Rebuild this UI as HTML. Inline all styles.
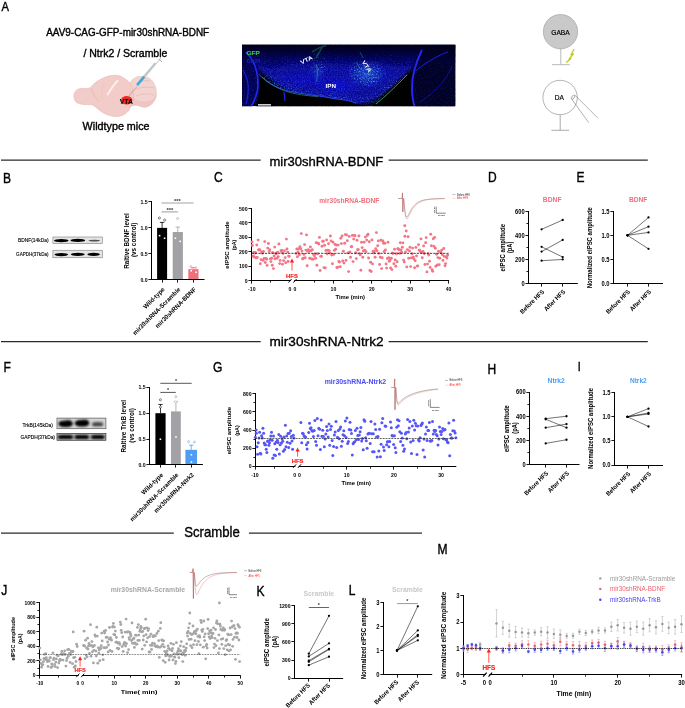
<!DOCTYPE html>
<html><head><meta charset="utf-8"><title>Figure</title>
<style>
html,body{margin:0;padding:0;background:#fff;}
body{width:685px;height:708px;overflow:hidden;font-family:"Liberation Sans",sans-serif;}
svg{display:block;font-family:"Liberation Sans",sans-serif;opacity:0.999;will-change:transform;}
</style></head><body>
<svg width="685" height="708" viewBox="0 0 685 708">
<defs>
<filter id="b1" x="-10%" y="-10%" width="120%" height="120%"><feGaussianBlur stdDeviation="0.5"/></filter>
<clipPath id="micClip"><rect x="242" y="44.8" width="213.3" height="61.4"/></clipPath>
<filter id="micBlur" x="-5%" y="-5%" width="110%" height="110%"><feGaussianBlur stdDeviation="1.6"/></filter>
<filter id="micBlur2" x="-5%" y="-5%" width="110%" height="110%"><feGaussianBlur stdDeviation="0.5"/></filter>
<filter id="speck" x="0" y="0" width="100%" height="100%">
 <feTurbulence type="fractalNoise" baseFrequency="0.85" numOctaves="2" seed="4" result="n"/>
 <feColorMatrix in="n" type="matrix" values="0 0 0 0 0.10  0 0 0 0 0.22  0 0 0 0 1  0 0 3.4 0 -1.6"/>
</filter>
<filter id="speckD" x="0" y="0" width="100%" height="100%">
 <feTurbulence type="fractalNoise" baseFrequency="0.6" numOctaves="2" seed="17" result="n"/>
 <feColorMatrix in="n" type="matrix" values="0 0 0 0 0  0 0 0 0 0  0 0 0 0 0.18  3.0 0 0 0 -1.25"/>
</filter>
<filter id="speckG" x="0" y="0" width="100%" height="100%">
 <feTurbulence type="fractalNoise" baseFrequency="0.7" numOctaves="2" seed="9" result="n"/>
 <feColorMatrix in="n" type="matrix" values="0 0 0 0 0.2  0 0 0 0 0.85  0 0 0 0 0.6  0 4 0 0 -2.15" result="c"/>
 <feGaussianBlur in="SourceAlpha" stdDeviation="3" result="sa"/>
 <feComposite in="c" in2="sa" operator="in"/>
</filter>
<linearGradient id="gTop" x1="0" y1="0" x2="0" y2="1"><stop offset="0" stop-color="#000008"/><stop offset="0.4" stop-color="#00002c" stop-opacity="0.95"/><stop offset="1" stop-color="#030370" stop-opacity="0"/></linearGradient>
<radialGradient id="gIPN" cx="0.5" cy="0.5" r="0.5"><stop offset="0" stop-color="#1212ee" stop-opacity="0.9"/><stop offset="1" stop-color="#1010e0" stop-opacity="0"/></radialGradient>
<radialGradient id="gVTA" cx="0.5" cy="0.5" r="0.5"><stop offset="0" stop-color="#3070e8" stop-opacity="0.9"/><stop offset="1" stop-color="#1828e0" stop-opacity="0"/></radialGradient>
<radialGradient id="gDark" cx="0.5" cy="0.5" r="0.5"><stop offset="0" stop-color="#020250" stop-opacity="0.85"/><stop offset="1" stop-color="#020250" stop-opacity="0"/></radialGradient>
<filter id="wb" x="-10%" y="-40%" width="120%" height="180%"><feGaussianBlur stdDeviation="0.75"/></filter>
<filter id="wb2" x="-10%" y="-40%" width="120%" height="180%"><feGaussianBlur stdDeviation="1.05"/></filter>
</defs>
<rect width="685" height="708" fill="#fff"/>
<text x="1.60" y="11.20" font-size="13" fill="#000" textLength="7.46" lengthAdjust="spacingAndGlyphs" stroke="#000" stroke-width="0.4">A</text>
<text x="46.20" y="35.80" font-size="10.9" fill="#000" textLength="163.00" lengthAdjust="spacingAndGlyphs" stroke="#000" stroke-width="0.38">AAV9-CAG-GFP-mir30shRNA-BDNF</text>
<text x="83.40" y="57.20" font-size="10.9" fill="#000" textLength="84.00" lengthAdjust="spacingAndGlyphs" stroke="#000" stroke-width="0.38">/ Ntrk2 / Scramble</text>
<text x="82.60" y="129.90" font-size="10.9" fill="#000" textLength="67.00" lengthAdjust="spacingAndGlyphs" stroke="#000" stroke-width="0.38">Wildtype mice</text>
<g filter="url(#b1)">
<path d="M126 110 C130 105.5 134 104.6 138 105.6 C142 107 145 108 148 106.6 C152 104.8 155 101 156.3 96 C156.3 90 150 90 140 92 C134 94 129 100 126 110 Z" fill="#efc6c2" stroke="#e3aeaa" stroke-width="0.5"/>
<path d="M129.6 84 C131.5 79.5 135 77.2 139 76.6 C143 76 148 76.6 151 79.5 C154.5 83 156.5 88 156.4 93 C156.3 97 153.5 99.5 151 101 C146 103 138 102.5 134 98.5 C131 95 129 88 129.6 84 Z" fill="#f3d3cf" stroke="#e6b6b2" stroke-width="0.5"/>
<path d="M74 96 C74 90.5 78 88.2 83 88.4 C86 88.5 89 88.8 91 87.2 C94 83 100 78.6 108 76.2 C113 74.8 119 74.8 123 77.5 C127 80 129.6 82 130.6 84.4 C134.4 90 134.4 100 130.4 107.7 C128 112.4 124 115.6 118 116.4 C112 117 106 114.6 102 112 C98 109.6 95 105.6 91.5 104.5 C86 104.8 80 104.5 77 102.8 C75 101.6 74 99 74 96 Z" fill="#f2ccc8" stroke="#e4b0ac" stroke-width="0.55"/>
<path d="M107.5 94.5 C110.5 89.5 114.5 84 117.6 80.6" stroke="#fdf2f0" stroke-width="1.7" fill="none" stroke-linecap="round"/>
<path d="M91 88 C92.5 93 95 98 99 101" stroke="#e4b2ae" stroke-width="0.6" fill="none"/>
<path d="M104 82 C102 88 101 94 102.5 100" stroke="#ecbfbb" stroke-width="0.6" fill="none"/>
<path d="M136 84 C140 81 145 80 150 81 M134.5 90 C140 87 148 86.5 154.5 88 M136 96 C142 93.5 148 93.5 154 95" stroke="#e2b0ac" stroke-width="0.6" fill="none"/>
</g>
<ellipse cx="126.7" cy="100.3" rx="5.6" ry="4.2" fill="#ef2a22" filter="url(#b1)"/>
<text x="126.30" y="103.60" font-size="8.0" fill="#000" text-anchor="middle" font-weight="bold" textLength="13.00" lengthAdjust="spacingAndGlyphs">VTA</text>
<line x1="160.90" y1="58.20" x2="127.50" y2="97.60" stroke="#8a8a8a" stroke-width="0.5" />
<line x1="155.60" y1="63.00" x2="144.00" y2="76.80" stroke="#cfd3d6" stroke-width="2.6" />
<line x1="155.60" y1="63.00" x2="144.00" y2="76.80" stroke="#9a9fa3" stroke-width="0.5" />
<line x1="144.20" y1="76.60" x2="137.20" y2="85.00" stroke="#3fa9d6" stroke-width="2.6" />
<line x1="158.60" y1="59.00" x2="162.00" y2="61.80" stroke="#8a8a8a" stroke-width="0.7" />
<g clip-path="url(#micClip)">
<rect x="242.00" y="44.80" width="213.30" height="61.40" fill="#000" />
<g filter="url(#micBlur)">
<path d="M242 44 L456 44 L456 108 L418 108 C412 92 410 80 414 66 C404 74 394 86 380 96 C368 104 356 106 346 104 C334 102 322 100 308 97 C292 94 276 86 262 72 C254 66 248 64 242 64 Z" fill="#0808a2"/>
<path d="M416 108 C411 92 410 80 414 62 C420 50 440 44 456 44 L456 108 Z" fill="#02022c"/>
<path d="M242 50 C252 56 258 66 260 78 C262 90 256 100 250 108 L242 108 Z" fill="#050570"/>
<ellipse cx="272" cy="62" rx="22" ry="9" fill="url(#gDark)"/>
<ellipse cx="336" cy="86" rx="26" ry="12" fill="url(#gIPN)"/>
<ellipse cx="368" cy="74" rx="24" ry="15" fill="url(#gVTA)"/>
<ellipse cx="318" cy="72" rx="9" ry="14" fill="url(#gVTA)" opacity="0.55"/>
<ellipse cx="300" cy="80" rx="28" ry="10" fill="url(#gIPN)" opacity="0.55"/>
<ellipse cx="398" cy="60" rx="20" ry="9" fill="url(#gDark)"/>
<rect x="236" y="42" width="226" height="27" fill="url(#gTop)"/>
</g>
<rect x="242" y="44.8" width="213.3" height="61.4" filter="url(#speckD)" opacity="0.55"/>
<rect x="242" y="44.8" width="213.3" height="61.4" filter="url(#speck)" opacity="0.26"/>
<g opacity="0.6"><ellipse cx="366" cy="74" rx="17" ry="13" filter="url(#speckG)"/></g>
<g opacity="0.45"><ellipse cx="318" cy="60" rx="9" ry="15" filter="url(#speckG)"/></g>
<g opacity="0.5"><path d="M262 74 C270 82 280 88 292 91 C306 94 320 95.4 336 98.6 C344 100 352 100 358 102 C366 104 372 102 380 96 C390 88 400 80 408 72" fill="none" stroke="#000" stroke-width="7" filter="url(#speckG)"/></g>
<g filter="url(#micBlur)">
<rect x="236" y="40" width="226" height="26" fill="url(#gTop)"/>
<path d="M416 110 C411 92 410 80 414 62 C420 50 440 42 458 42 L458 110 Z" fill="#00001c" opacity="0.62"/>
<path d="M240 48 C252 56 258 66 260 78 C262 90 256 100 250 110 L240 110 Z" fill="#00001c" opacity="0.35"/>
</g>
<g filter="url(#micBlur2)">
<path d="M256 108 C260 96 261 84 258.6 74 C266 82 276 88 288 91 C302 94 318 95.4 334 98.6 C342 100 350 100 356 103.4 C362 106 368 107 374 106 C384 94 398 82 412 71 C409 84 410 96 414 108 Z" fill="#000"/>
<path d="M246 52 C254 60 258 72 258 84 C258 94 254 102 250 108" stroke="#2626f6" stroke-width="1.6" fill="none"/>
<path d="M243 70 C248 78 250 90 246 104" stroke="#1c1ce0" stroke-width="1.2" fill="none"/>
<path d="M258.6 74 C266 82 276 88 288 91 C302 94 318 95.4 334 98.6 C342 100 350 100 356 103.4" stroke="#2248f0" stroke-width="1.0" fill="none"/>
<path d="M422 50 C416 62 412 76 412 88 C412 96 413 102 415 108" stroke="#2828fa" stroke-width="1.8" fill="none"/>
<path d="M414 72 C424 64 436 56 448 52" stroke="#1c1cd8" stroke-width="1.0" fill="none"/>
<path d="M420 102 C432 94 446 82 452 66" stroke="#1414b0" stroke-width="0.8" fill="none"/>
<path d="M284 92 L285 101" stroke="#2a2aff" stroke-width="1" fill="none"/>
<path d="M376 104 C386 96 398 84 407 75" stroke="#36c070" stroke-width="0.9" fill="none" opacity="0.9"/>
<path d="M262 77 C268 83 278 89 290 92.5 C300 95 310 96 318 96.5" stroke="#2c9c9c" stroke-width="0.8" fill="none" opacity="0.8"/>
<path d="M312 52 C316 49 320 47 326 45.5 M316 58 C319 53 321 49 323 46" stroke="#2aa262" stroke-width="1.6" fill="none" opacity="0.4"/>
<path d="M360 52 L363 58 M356 62 L361 70" stroke="#2aa262" stroke-width="1" fill="none" opacity="0.5"/>
<path d="M316 64 C318 70 318 76 316 82" stroke="#2c98b0" stroke-width="1.6" fill="none" opacity="0.4"/>
</g>
</g>
<text x="246.50" y="54.60" font-size="6.0" fill="#38c452" font-weight="bold" textLength="13.20" lengthAdjust="spacingAndGlyphs" stroke="#38c452" stroke-width="0.15">GFP</text>
<text x="246.50" y="62.50" font-size="5.5" fill="#1c1cc8" font-weight="bold" textLength="14.00" lengthAdjust="spacingAndGlyphs">DAPI</text>
<text x="301.50" y="64.50" font-size="5.6" fill="#fff" font-weight="bold" textLength="13.00" lengthAdjust="spacingAndGlyphs" transform="rotate(-26 301.50 64.50)">VTA</text>
<text x="361.50" y="62.00" font-size="5.6" fill="#fff" font-weight="bold" textLength="13.00" lengthAdjust="spacingAndGlyphs" transform="rotate(56 361.50 62.00)">VTA</text>
<text x="325.50" y="87.50" font-size="5.6" fill="#fff" font-weight="bold" textLength="10.50" lengthAdjust="spacingAndGlyphs">IPN</text>
<rect x="258.00" y="104.20" width="13.00" height="1.30" fill="#fff" />
<circle cx="560.5" cy="31.7" r="17.2" fill="#c9c9c9" stroke="#8f8f8f" stroke-width="0.5"/>
<line x1="560.80" y1="49.00" x2="560.80" y2="64.70" stroke="#b0b0b0" stroke-width="0.9" />
<line x1="552.00" y1="64.70" x2="569.70" y2="64.70" stroke="#b0b0b0" stroke-width="0.9" />
<text x="560.50" y="34.60" font-size="8" fill="#000" text-anchor="middle" textLength="18.50" lengthAdjust="spacingAndGlyphs" stroke="#000" stroke-width="0.2">GABA</text>
<path d="M574.3 49.0 L570.9 54.8 L573.3 53.8 L569.0 59.2 L571.0 58.4 L566.2 62.6" stroke="#c2ca26" stroke-width="1.3" fill="none" stroke-linejoin="round"/>
<circle cx="560.1" cy="97.5" r="17.2" fill="#fff" stroke="#6a6a6a" stroke-width="0.5"/>
<line x1="560.20" y1="114.70" x2="560.20" y2="130.30" stroke="#8a8a8a" stroke-width="0.7" />
<line x1="551.40" y1="130.30" x2="569.10" y2="130.30" stroke="#8a8a8a" stroke-width="0.7" />
<text x="559.30" y="100.40" font-size="8" fill="#000" text-anchor="middle" textLength="9.20" lengthAdjust="spacingAndGlyphs" stroke="#000" stroke-width="0.2">DA</text>
<ellipse cx="573.0" cy="97.2" rx="1.3" ry="2.2" transform="rotate(40 573 97.2)" fill="none" stroke="#555" stroke-width="0.45"/>
<line x1="574.80" y1="95.00" x2="597.70" y2="117.90" stroke="#555" stroke-width="0.45" />
<line x1="571.60" y1="98.80" x2="588.70" y2="122.60" stroke="#555" stroke-width="0.45" />
<line x1="1.00" y1="160.20" x2="260.70" y2="160.20" stroke="#2a2a2a" stroke-width="1.3" />
<line x1="388.60" y1="160.20" x2="647.80" y2="160.20" stroke="#2a2a2a" stroke-width="1.3" />
<text x="269.40" y="165.80" font-size="13.7" fill="#000" textLength="113.90" lengthAdjust="spacingAndGlyphs" stroke="#000" stroke-width="0.35">mir30shRNA-BDNF</text>
<text x="3.00" y="183.00" font-size="14" fill="#000" textLength="8.03" lengthAdjust="spacingAndGlyphs" stroke="#000" stroke-width="0.4">B</text>
<text x="214.00" y="182.40" font-size="14" fill="#000" textLength="8.69" lengthAdjust="spacingAndGlyphs" stroke="#000" stroke-width="0.4">C</text>
<text x="488.00" y="182.40" font-size="14" fill="#000" textLength="8.69" lengthAdjust="spacingAndGlyphs" stroke="#000" stroke-width="0.4">D</text>
<text x="576.60" y="182.40" font-size="14" fill="#000" textLength="8.03" lengthAdjust="spacingAndGlyphs" stroke="#000" stroke-width="0.4">E</text>
<rect x="52.90" y="237.00" width="49.40" height="6.60" fill="#e4e4e4" stroke="#666" stroke-width="0.5"/>
<g filter="url(#wb)">
<ellipse cx="61.30" cy="240.60" rx="7.28" ry="1.68" fill="#000" opacity="1"/>
<ellipse cx="77.80" cy="240.40" rx="7.28" ry="1.68" fill="#000" opacity="1"/>
<ellipse cx="94.30" cy="240.60" rx="5.82" ry="0.90" fill="#222" opacity="0.75"/>
</g>
<rect x="52.90" y="250.20" width="49.40" height="7.60" fill="#e4e4e4" stroke="#666" stroke-width="0.5"/>
<g filter="url(#wb)">
<ellipse cx="61.30" cy="254.60" rx="6.86" ry="1.57" fill="#000" opacity="1"/>
<ellipse cx="77.80" cy="254.40" rx="6.86" ry="1.57" fill="#000" opacity="1"/>
<ellipse cx="93.60" cy="254.40" rx="6.24" ry="1.57" fill="#000" opacity="1"/>
</g>
<text x="18.00" y="242.30" font-size="5.2" fill="#000" textLength="30.50" lengthAdjust="spacingAndGlyphs" stroke="#000" stroke-width="0.12">BDNF(14kDa)</text>
<text x="16.10" y="256.20" font-size="5.2" fill="#000" textLength="32.40" lengthAdjust="spacingAndGlyphs" stroke="#000" stroke-width="0.12">GAPDH(37kDa)</text>
<line x1="151.50" y1="201.00" x2="151.50" y2="280.00" stroke="#000" stroke-width="1.0" />
<line x1="148.40" y1="201.50" x2="151.50" y2="201.50" stroke="#000" stroke-width="0.9" />
<text x="147.60" y="203.97" font-size="5.777" fill="#000" text-anchor="end" font-weight="bold" textLength="7.15" lengthAdjust="spacingAndGlyphs">1.5</text>
<line x1="148.40" y1="227.50" x2="151.50" y2="227.50" stroke="#000" stroke-width="0.9" />
<text x="147.60" y="229.93" font-size="5.777" fill="#000" text-anchor="end" font-weight="bold" textLength="7.15" lengthAdjust="spacingAndGlyphs">1.0</text>
<line x1="148.40" y1="253.50" x2="151.50" y2="253.50" stroke="#000" stroke-width="0.9" />
<text x="147.60" y="255.90" font-size="5.777" fill="#000" text-anchor="end" font-weight="bold" textLength="7.15" lengthAdjust="spacingAndGlyphs">0.5</text>
<line x1="148.40" y1="279.50" x2="151.50" y2="279.50" stroke="#000" stroke-width="0.9" />
<text x="147.60" y="281.87" font-size="5.777" fill="#000" text-anchor="end" font-weight="bold" textLength="7.15" lengthAdjust="spacingAndGlyphs">0.0</text>
<line x1="162.10" y1="222.41" x2="162.10" y2="227.87" stroke="#000" stroke-width="0.8" />
<line x1="159.90" y1="222.41" x2="164.30" y2="222.41" stroke="#000" stroke-width="0.8" />
<rect x="157.10" y="227.87" width="10.00" height="51.93" fill="#000" />
<line x1="177.80" y1="227.09" x2="177.80" y2="232.02" stroke="#a2a2a6" stroke-width="0.8" />
<line x1="175.60" y1="227.09" x2="180.00" y2="227.09" stroke="#a2a2a6" stroke-width="0.8" />
<rect x="172.70" y="232.02" width="10.20" height="47.78" fill="#a2a2a6" />
<line x1="193.40" y1="267.60" x2="193.40" y2="269.15" stroke="#f0707c" stroke-width="0.8" />
<line x1="191.20" y1="267.60" x2="195.60" y2="267.60" stroke="#f0707c" stroke-width="0.8" />
<rect x="188.30" y="269.15" width="10.20" height="10.65" fill="#f0707c" />
<line x1="151.00" y1="279.50" x2="204.50" y2="279.50" stroke="#000" stroke-width="1.0" />
<line x1="162.50" y1="279.50" x2="162.50" y2="282.60" stroke="#000" stroke-width="0.9" />
<line x1="177.50" y1="279.50" x2="177.50" y2="282.60" stroke="#000" stroke-width="0.9" />
<line x1="193.50" y1="279.50" x2="193.50" y2="282.60" stroke="#000" stroke-width="0.9" />
<circle cx="159.40" cy="218.00" r="1.05" fill="#fff" stroke="#222" stroke-width="0.55"/>
<circle cx="164.60" cy="220.08" r="1.05" fill="#fff" stroke="#222" stroke-width="0.55"/>
<rect x="158.80" y="234.86" width="1.60" height="1.60" fill="#fff" />
<rect x="163.80" y="237.45" width="1.60" height="1.60" fill="#fff" />
<circle cx="177.60" cy="218.52" r="1.05" fill="#fff" stroke="#999" stroke-width="0.55"/>
<rect x="174.60" y="237.45" width="1.60" height="1.60" fill="#fff" />
<rect x="179.40" y="240.57" width="1.60" height="1.60" fill="#fff" />
<circle cx="190.80" cy="266.56" r="0.9" fill="#fff" stroke="#f0707c" stroke-width="0.55"/>
<circle cx="195.80" cy="267.60" r="0.9" fill="#fff" stroke="#f0707c" stroke-width="0.55"/>
<circle cx="193.00" cy="268.63" r="0.9" fill="#fff" stroke="#f0707c" stroke-width="0.55"/>
<rect x="190.40" y="269.91" width="1.60" height="1.60" fill="#fff" />
<rect x="195.20" y="271.47" width="1.60" height="1.60" fill="#fff" />
<line x1="161.50" y1="203.00" x2="193.60" y2="203.00" stroke="#a4a4a4" stroke-width="1.1" />
<line x1="161.50" y1="211.90" x2="178.00" y2="211.90" stroke="#a4a4a4" stroke-width="1.1" />
<text x="177.50" y="203.20" font-size="5.8" fill="#333" text-anchor="middle" font-weight="bold">***</text>
<text x="169.80" y="212.10" font-size="5.8" fill="#333" text-anchor="middle" font-weight="bold">***</text>
<text x="128.60" y="241.00" font-size="6.4" fill="#000" text-anchor="middle" font-weight="bold" textLength="55.70" lengthAdjust="spacingAndGlyphs" transform="rotate(-90 128.60 241.00)">Raltive BDNF level</text>
<text x="135.90" y="239.80" font-size="6.4" fill="#000" text-anchor="middle" font-weight="bold" textLength="34.50" lengthAdjust="spacingAndGlyphs" transform="rotate(-90 135.90 239.80)">(vs control)</text>
<text x="165.20" y="289.80" font-size="6.3" fill="#000" text-anchor="end" font-weight="bold" textLength="27.50" lengthAdjust="spacingAndGlyphs" transform="rotate(-45 165.20 289.80)">Wild-type</text>
<text x="180.90" y="289.80" font-size="6.3" fill="#000" text-anchor="end" font-weight="bold" textLength="64.60" lengthAdjust="spacingAndGlyphs" transform="rotate(-45 180.90 289.80)">mir30shRNA-Scramble</text>
<text x="196.50" y="289.80" font-size="6.3" fill="#000" text-anchor="end" font-weight="bold" textLength="54.70" lengthAdjust="spacingAndGlyphs" transform="rotate(-45 196.50 289.80)">mir30shRNA-BDNF</text>
<line x1="251.50" y1="208.00" x2="251.50" y2="281.00" stroke="#000" stroke-width="1.0" />
<line x1="248.40" y1="280.50" x2="251.50" y2="280.50" stroke="#000" stroke-width="0.9" />
<text x="247.60" y="282.87" font-size="5.777" fill="#000" text-anchor="end" font-weight="bold" textLength="2.86" lengthAdjust="spacingAndGlyphs">0</text>
<line x1="248.40" y1="266.50" x2="251.50" y2="266.50" stroke="#000" stroke-width="0.9" />
<text x="247.60" y="268.41" font-size="5.777" fill="#000" text-anchor="end" font-weight="bold" textLength="8.58" lengthAdjust="spacingAndGlyphs">100</text>
<line x1="248.40" y1="251.50" x2="251.50" y2="251.50" stroke="#000" stroke-width="0.9" />
<text x="247.60" y="253.95" font-size="5.777" fill="#000" text-anchor="end" font-weight="bold" textLength="8.58" lengthAdjust="spacingAndGlyphs">200</text>
<line x1="248.40" y1="237.50" x2="251.50" y2="237.50" stroke="#000" stroke-width="0.9" />
<text x="247.60" y="239.49" font-size="5.777" fill="#000" text-anchor="end" font-weight="bold" textLength="8.58" lengthAdjust="spacingAndGlyphs">300</text>
<line x1="248.40" y1="222.50" x2="251.50" y2="222.50" stroke="#000" stroke-width="0.9" />
<text x="247.60" y="225.03" font-size="5.777" fill="#000" text-anchor="end" font-weight="bold" textLength="8.58" lengthAdjust="spacingAndGlyphs">400</text>
<line x1="248.40" y1="208.50" x2="251.50" y2="208.50" stroke="#000" stroke-width="0.9" />
<text x="247.60" y="210.57" font-size="5.777" fill="#000" text-anchor="end" font-weight="bold" textLength="8.58" lengthAdjust="spacingAndGlyphs">500</text>
<line x1="251.00" y1="280.50" x2="449.10" y2="280.50" stroke="#000" stroke-width="1.0" />
<line x1="251.50" y1="280.50" x2="251.50" y2="283.60" stroke="#000" stroke-width="0.9" />
<text x="251.80" y="290.90" font-size="5.777" fill="#000" text-anchor="middle" font-weight="bold" textLength="7.43" lengthAdjust="spacingAndGlyphs">-10</text>
<text x="290.00" y="290.90" font-size="5.777" fill="#000" text-anchor="middle" font-weight="bold" textLength="2.86" lengthAdjust="spacingAndGlyphs">0</text>
<text x="295.00" y="290.90" font-size="5.777" fill="#000" text-anchor="middle" font-weight="bold" textLength="2.86" lengthAdjust="spacingAndGlyphs">0</text>
<line x1="333.50" y1="280.50" x2="333.50" y2="283.60" stroke="#000" stroke-width="0.9" />
<text x="333.40" y="290.90" font-size="5.777" fill="#000" text-anchor="middle" font-weight="bold" textLength="5.72" lengthAdjust="spacingAndGlyphs">10</text>
<line x1="371.50" y1="280.50" x2="371.50" y2="283.60" stroke="#000" stroke-width="0.9" />
<text x="371.80" y="290.90" font-size="5.777" fill="#000" text-anchor="middle" font-weight="bold" textLength="5.72" lengthAdjust="spacingAndGlyphs">20</text>
<line x1="410.50" y1="280.50" x2="410.50" y2="283.60" stroke="#000" stroke-width="0.9" />
<text x="410.20" y="290.90" font-size="5.777" fill="#000" text-anchor="middle" font-weight="bold" textLength="5.72" lengthAdjust="spacingAndGlyphs">30</text>
<line x1="448.50" y1="280.50" x2="448.50" y2="283.60" stroke="#000" stroke-width="0.9" />
<text x="448.60" y="290.90" font-size="5.777" fill="#000" text-anchor="middle" font-weight="bold" textLength="5.72" lengthAdjust="spacingAndGlyphs">40</text>
<line x1="270.50" y1="280.50" x2="270.50" y2="282.61" stroke="#000" stroke-width="0.85" />
<line x1="314.50" y1="280.50" x2="314.50" y2="282.61" stroke="#000" stroke-width="0.85" />
<line x1="352.50" y1="280.50" x2="352.50" y2="282.61" stroke="#000" stroke-width="0.85" />
<line x1="391.50" y1="280.50" x2="391.50" y2="282.61" stroke="#000" stroke-width="0.85" />
<line x1="429.50" y1="280.50" x2="429.50" y2="282.61" stroke="#000" stroke-width="0.85" />
<rect x="290.80" y="279.80" width="3.40" height="2.00" fill="#fff" />
<line x1="288.45" y1="282.55" x2="291.55" y2="279.05" stroke="#000" stroke-width="1.0" />
<line x1="293.45" y1="282.55" x2="296.55" y2="279.05" stroke="#000" stroke-width="1.0" />
<text x="350.20" y="298.60" font-size="6.2" fill="#000" text-anchor="middle" font-weight="bold" textLength="29.50" lengthAdjust="spacingAndGlyphs">Time (min)</text>
<text x="229.03" y="245.00" font-size="6.2" fill="#000" text-anchor="middle" font-weight="bold" textLength="47.40" lengthAdjust="spacingAndGlyphs" transform="rotate(-90 229.03 245.00)">eIPSC amplitude</text>
<text x="236.03" y="245.00" font-size="6.2" fill="#000" text-anchor="middle" font-weight="bold" textLength="10.50" lengthAdjust="spacingAndGlyphs" transform="rotate(-90 236.03 245.00)">(pA)</text>
<g fill="#f27686"><circle cx="252.0" cy="242.0" r="1.45"/><circle cx="252.3" cy="245.5" r="1.45"/><circle cx="253.0" cy="256.1" r="1.45"/><circle cx="253.7" cy="252.4" r="1.45"/><circle cx="254.1" cy="257.0" r="1.45"/><circle cx="254.7" cy="253.2" r="1.45"/><circle cx="255.5" cy="252.5" r="1.45"/><circle cx="256.0" cy="257.8" r="1.45"/><circle cx="256.8" cy="245.0" r="1.45"/><circle cx="257.3" cy="257.5" r="1.45"/><circle cx="258.1" cy="240.1" r="1.45"/><circle cx="258.5" cy="250.0" r="1.45"/><circle cx="259.1" cy="249.6" r="1.45"/><circle cx="259.9" cy="250.0" r="1.45"/><circle cx="260.3" cy="263.7" r="1.45"/><circle cx="261.0" cy="259.6" r="1.45"/><circle cx="261.7" cy="251.9" r="1.45"/><circle cx="262.2" cy="253.3" r="1.45"/><circle cx="263.0" cy="260.2" r="1.45"/><circle cx="263.5" cy="251.5" r="1.45"/><circle cx="264.1" cy="258.5" r="1.45"/><circle cx="264.8" cy="241.6" r="1.45"/><circle cx="265.3" cy="262.5" r="1.45"/><circle cx="266.1" cy="258.5" r="1.45"/><circle cx="266.7" cy="259.3" r="1.45"/><circle cx="267.1" cy="265.4" r="1.45"/><circle cx="267.7" cy="248.1" r="1.45"/><circle cx="268.4" cy="243.5" r="1.45"/><circle cx="269.2" cy="251.6" r="1.45"/><circle cx="269.7" cy="249.7" r="1.45"/><circle cx="270.4" cy="258.9" r="1.45"/><circle cx="270.9" cy="261.6" r="1.45"/><circle cx="271.6" cy="258.3" r="1.45"/><circle cx="272.3" cy="265.3" r="1.45"/><circle cx="272.6" cy="252.5" r="1.45"/><circle cx="273.4" cy="268.6" r="1.45"/><circle cx="274.1" cy="255.9" r="1.45"/><circle cx="274.7" cy="247.1" r="1.45"/><circle cx="275.0" cy="258.8" r="1.45"/><circle cx="275.7" cy="253.3" r="1.45"/><circle cx="276.3" cy="253.9" r="1.45"/><circle cx="277.0" cy="258.3" r="1.45"/><circle cx="277.6" cy="252.2" r="1.45"/><circle cx="278.3" cy="256.6" r="1.45"/><circle cx="278.9" cy="244.0" r="1.45"/><circle cx="279.7" cy="263.6" r="1.45"/><circle cx="280.1" cy="260.4" r="1.45"/><circle cx="280.9" cy="250.7" r="1.45"/><circle cx="281.5" cy="251.6" r="1.45"/><circle cx="281.9" cy="250.5" r="1.45"/><circle cx="282.5" cy="264.3" r="1.45"/><circle cx="283.1" cy="253.4" r="1.45"/><circle cx="283.6" cy="260.6" r="1.45"/><circle cx="284.5" cy="250.8" r="1.45"/><circle cx="285.2" cy="257.6" r="1.45"/><circle cx="285.7" cy="262.8" r="1.45"/><circle cx="286.4" cy="239.1" r="1.45"/><circle cx="287.0" cy="249.0" r="1.45"/><circle cx="287.7" cy="252.1" r="1.45"/><circle cx="288.1" cy="261.5" r="1.45"/><circle cx="288.6" cy="256.1" r="1.45"/><circle cx="289.2" cy="256.4" r="1.45"/><circle cx="296.2" cy="253.4" r="1.45"/><circle cx="296.8" cy="249.0" r="1.45"/><circle cx="297.4" cy="256.7" r="1.45"/><circle cx="298.1" cy="251.9" r="1.45"/><circle cx="298.7" cy="248.8" r="1.45"/><circle cx="299.4" cy="254.7" r="1.45"/><circle cx="300.0" cy="246.7" r="1.45"/><circle cx="300.7" cy="248.7" r="1.45"/><circle cx="301.3" cy="233.6" r="1.45"/><circle cx="302.0" cy="251.1" r="1.45"/><circle cx="302.6" cy="258.9" r="1.45"/><circle cx="303.3" cy="258.2" r="1.45"/><circle cx="303.9" cy="254.4" r="1.45"/><circle cx="304.6" cy="244.6" r="1.45"/><circle cx="305.2" cy="257.7" r="1.45"/><circle cx="305.9" cy="250.1" r="1.45"/><circle cx="306.5" cy="234.9" r="1.45"/><circle cx="307.2" cy="265.7" r="1.45"/><circle cx="307.8" cy="251.4" r="1.45"/><circle cx="308.4" cy="249.7" r="1.45"/><circle cx="309.1" cy="251.3" r="1.45"/><circle cx="309.7" cy="258.2" r="1.45"/><circle cx="310.4" cy="246.9" r="1.45"/><circle cx="311.0" cy="250.7" r="1.45"/><circle cx="311.7" cy="259.0" r="1.45"/><circle cx="312.3" cy="249.8" r="1.45"/><circle cx="313.0" cy="259.2" r="1.45"/><circle cx="313.6" cy="254.4" r="1.45"/><circle cx="314.3" cy="255.7" r="1.45"/><circle cx="314.9" cy="253.9" r="1.45"/><circle cx="315.6" cy="258.3" r="1.45"/><circle cx="316.2" cy="242.7" r="1.45"/><circle cx="316.9" cy="265.3" r="1.45"/><circle cx="317.5" cy="253.7" r="1.45"/><circle cx="318.2" cy="243.1" r="1.45"/><circle cx="318.8" cy="244.0" r="1.45"/><circle cx="319.4" cy="237.4" r="1.45"/><circle cx="320.1" cy="270.5" r="1.45"/><circle cx="320.7" cy="256.4" r="1.45"/><circle cx="321.4" cy="256.3" r="1.45"/><circle cx="322.0" cy="246.2" r="1.45"/><circle cx="322.7" cy="241.2" r="1.45"/><circle cx="323.3" cy="241.2" r="1.45"/><circle cx="324.0" cy="267.6" r="1.45"/><circle cx="324.6" cy="245.3" r="1.45"/><circle cx="325.3" cy="267.9" r="1.45"/><circle cx="325.9" cy="250.5" r="1.45"/><circle cx="326.6" cy="239.9" r="1.45"/><circle cx="327.2" cy="253.8" r="1.45"/><circle cx="327.9" cy="250.2" r="1.45"/><circle cx="328.5" cy="243.8" r="1.45"/><circle cx="329.2" cy="250.6" r="1.45"/><circle cx="329.8" cy="253.0" r="1.45"/><circle cx="330.4" cy="236.0" r="1.45"/><circle cx="331.1" cy="241.0" r="1.45"/><circle cx="331.7" cy="255.0" r="1.45"/><circle cx="332.4" cy="263.8" r="1.45"/><circle cx="333.0" cy="242.3" r="1.45"/><circle cx="333.7" cy="254.5" r="1.45"/><circle cx="334.3" cy="250.4" r="1.45"/><circle cx="335.0" cy="244.4" r="1.45"/><circle cx="335.6" cy="249.3" r="1.45"/><circle cx="336.3" cy="245.0" r="1.45"/><circle cx="336.9" cy="267.5" r="1.45"/><circle cx="337.6" cy="267.3" r="1.45"/><circle cx="338.2" cy="245.1" r="1.45"/><circle cx="338.9" cy="261.5" r="1.45"/><circle cx="339.5" cy="262.1" r="1.45"/><circle cx="340.2" cy="266.7" r="1.45"/><circle cx="340.8" cy="238.2" r="1.45"/><circle cx="341.4" cy="243.6" r="1.45"/><circle cx="342.1" cy="236.0" r="1.45"/><circle cx="342.7" cy="261.0" r="1.45"/><circle cx="343.4" cy="251.2" r="1.45"/><circle cx="344.0" cy="263.1" r="1.45"/><circle cx="344.7" cy="243.2" r="1.45"/><circle cx="345.3" cy="234.6" r="1.45"/><circle cx="346.0" cy="260.4" r="1.45"/><circle cx="346.6" cy="234.9" r="1.45"/><circle cx="347.3" cy="240.8" r="1.45"/><circle cx="347.9" cy="252.9" r="1.45"/><circle cx="348.6" cy="271.6" r="1.45"/><circle cx="349.2" cy="236.4" r="1.45"/><circle cx="349.9" cy="252.0" r="1.45"/><circle cx="350.5" cy="257.3" r="1.45"/><circle cx="351.2" cy="246.8" r="1.45"/><circle cx="351.8" cy="246.7" r="1.45"/><circle cx="352.4" cy="235.4" r="1.45"/><circle cx="353.1" cy="261.6" r="1.45"/><circle cx="353.7" cy="239.1" r="1.45"/><circle cx="354.4" cy="235.4" r="1.45"/><circle cx="355.0" cy="235.8" r="1.45"/><circle cx="355.7" cy="252.8" r="1.45"/><circle cx="356.3" cy="258.6" r="1.45"/><circle cx="357.0" cy="240.3" r="1.45"/><circle cx="357.6" cy="249.7" r="1.45"/><circle cx="358.3" cy="249.6" r="1.45"/><circle cx="358.9" cy="236.0" r="1.45"/><circle cx="359.6" cy="253.6" r="1.45"/><circle cx="360.2" cy="254.9" r="1.45"/><circle cx="360.9" cy="270.2" r="1.45"/><circle cx="361.5" cy="242.3" r="1.45"/><circle cx="362.2" cy="247.6" r="1.45"/><circle cx="362.8" cy="257.2" r="1.45"/><circle cx="363.4" cy="251.0" r="1.45"/><circle cx="364.1" cy="242.2" r="1.45"/><circle cx="364.7" cy="250.1" r="1.45"/><circle cx="365.4" cy="237.1" r="1.45"/><circle cx="366.0" cy="251.6" r="1.45"/><circle cx="366.7" cy="240.1" r="1.45"/><circle cx="367.3" cy="235.4" r="1.45"/><circle cx="368.0" cy="234.2" r="1.45"/><circle cx="368.6" cy="258.0" r="1.45"/><circle cx="369.3" cy="241.8" r="1.45"/><circle cx="369.9" cy="270.5" r="1.45"/><circle cx="370.6" cy="262.3" r="1.45"/><circle cx="371.2" cy="271.5" r="1.45"/><circle cx="371.9" cy="239.9" r="1.45"/><circle cx="372.5" cy="263.9" r="1.45"/><circle cx="373.2" cy="251.2" r="1.45"/><circle cx="373.8" cy="253.1" r="1.45"/><circle cx="374.4" cy="251.4" r="1.45"/><circle cx="375.1" cy="257.3" r="1.45"/><circle cx="375.7" cy="248.8" r="1.45"/><circle cx="376.4" cy="232.6" r="1.45"/><circle cx="377.0" cy="250.8" r="1.45"/><circle cx="377.7" cy="245.7" r="1.45"/><circle cx="378.3" cy="240.9" r="1.45"/><circle cx="379.0" cy="253.4" r="1.45"/><circle cx="379.6" cy="264.5" r="1.45"/><circle cx="380.3" cy="257.2" r="1.45"/><circle cx="380.9" cy="240.3" r="1.45"/><circle cx="381.6" cy="268.6" r="1.45"/><circle cx="382.2" cy="257.7" r="1.45"/><circle cx="382.9" cy="241.0" r="1.45"/><circle cx="383.5" cy="243.3" r="1.45"/><circle cx="384.2" cy="251.5" r="1.45"/><circle cx="384.8" cy="243.3" r="1.45"/><circle cx="385.4" cy="250.0" r="1.45"/><circle cx="386.1" cy="264.0" r="1.45"/><circle cx="386.7" cy="268.1" r="1.45"/><circle cx="387.4" cy="258.5" r="1.45"/><circle cx="388.0" cy="242.3" r="1.45"/><circle cx="388.7" cy="257.8" r="1.45"/><circle cx="389.3" cy="261.3" r="1.45"/><circle cx="390.0" cy="260.0" r="1.45"/><circle cx="390.6" cy="268.0" r="1.45"/><circle cx="391.3" cy="258.2" r="1.45"/><circle cx="391.9" cy="269.6" r="1.45"/><circle cx="392.6" cy="253.0" r="1.45"/><circle cx="393.2" cy="253.4" r="1.45"/><circle cx="393.9" cy="263.8" r="1.45"/><circle cx="394.5" cy="249.2" r="1.45"/><circle cx="395.2" cy="259.9" r="1.45"/><circle cx="395.8" cy="266.3" r="1.45"/><circle cx="396.4" cy="253.8" r="1.45"/><circle cx="397.1" cy="261.8" r="1.45"/><circle cx="397.7" cy="248.6" r="1.45"/><circle cx="398.4" cy="248.9" r="1.45"/><circle cx="399.0" cy="249.8" r="1.45"/><circle cx="399.7" cy="253.4" r="1.45"/><circle cx="400.3" cy="242.7" r="1.45"/><circle cx="401.0" cy="249.9" r="1.45"/><circle cx="401.6" cy="252.1" r="1.45"/><circle cx="402.3" cy="247.3" r="1.45"/><circle cx="402.9" cy="242.9" r="1.45"/><circle cx="403.6" cy="260.1" r="1.45"/><circle cx="404.2" cy="262.0" r="1.45"/><circle cx="404.9" cy="236.2" r="1.45"/><circle cx="405.5" cy="251.9" r="1.45"/><circle cx="406.2" cy="231.0" r="1.45"/><circle cx="406.8" cy="266.9" r="1.45"/><circle cx="407.4" cy="249.6" r="1.45"/><circle cx="408.1" cy="236.8" r="1.45"/><circle cx="408.7" cy="258.2" r="1.45"/><circle cx="409.4" cy="250.9" r="1.45"/><circle cx="410.0" cy="247.3" r="1.45"/><circle cx="410.7" cy="266.6" r="1.45"/><circle cx="411.3" cy="257.9" r="1.45"/><circle cx="412.0" cy="253.8" r="1.45"/><circle cx="412.6" cy="248.1" r="1.45"/><circle cx="413.3" cy="257.3" r="1.45"/><circle cx="413.9" cy="259.0" r="1.45"/><circle cx="414.6" cy="267.8" r="1.45"/><circle cx="415.2" cy="260.8" r="1.45"/><circle cx="415.9" cy="247.4" r="1.45"/><circle cx="416.5" cy="255.9" r="1.45"/><circle cx="417.2" cy="266.1" r="1.45"/><circle cx="417.8" cy="265.9" r="1.45"/><circle cx="418.5" cy="244.7" r="1.45"/><circle cx="419.1" cy="250.1" r="1.45"/><circle cx="419.7" cy="250.3" r="1.45"/><circle cx="420.4" cy="251.8" r="1.45"/><circle cx="421.0" cy="238.9" r="1.45"/><circle cx="421.7" cy="252.4" r="1.45"/><circle cx="422.3" cy="257.7" r="1.45"/><circle cx="423.0" cy="251.4" r="1.45"/><circle cx="423.6" cy="245.9" r="1.45"/><circle cx="424.3" cy="253.5" r="1.45"/><circle cx="424.9" cy="264.5" r="1.45"/><circle cx="425.6" cy="242.8" r="1.45"/><circle cx="426.2" cy="237.6" r="1.45"/><circle cx="426.9" cy="271.9" r="1.45"/><circle cx="427.5" cy="264.1" r="1.45"/><circle cx="428.2" cy="253.8" r="1.45"/><circle cx="428.8" cy="255.0" r="1.45"/><circle cx="429.5" cy="261.2" r="1.45"/><circle cx="430.1" cy="267.4" r="1.45"/><circle cx="430.7" cy="234.3" r="1.45"/><circle cx="431.4" cy="245.8" r="1.45"/><circle cx="432.0" cy="269.7" r="1.45"/><circle cx="432.7" cy="271.3" r="1.45"/><circle cx="433.3" cy="238.7" r="1.45"/><circle cx="434.0" cy="246.4" r="1.45"/><circle cx="434.6" cy="237.5" r="1.45"/><circle cx="435.3" cy="248.3" r="1.45"/><circle cx="435.9" cy="266.3" r="1.45"/><circle cx="436.6" cy="254.2" r="1.45"/><circle cx="437.2" cy="264.9" r="1.45"/><circle cx="437.9" cy="257.6" r="1.45"/><circle cx="438.5" cy="251.3" r="1.45"/><circle cx="439.2" cy="264.7" r="1.45"/><circle cx="439.8" cy="258.3" r="1.45"/><circle cx="440.5" cy="252.0" r="1.45"/><circle cx="441.1" cy="252.9" r="1.45"/><circle cx="441.7" cy="250.1" r="1.45"/><circle cx="442.4" cy="254.7" r="1.45"/><circle cx="443.0" cy="260.4" r="1.45"/><circle cx="443.7" cy="248.5" r="1.45"/><circle cx="444.3" cy="256.4" r="1.45"/><circle cx="445.0" cy="265.8" r="1.45"/><circle cx="445.6" cy="263.6" r="1.45"/><circle cx="446.3" cy="256.9" r="1.45"/><circle cx="446.9" cy="258.1" r="1.45"/><circle cx="447.6" cy="255.3" r="1.45"/><circle cx="404.8" cy="225.7" r="1.45"/></g>
<line x1="251.80" y1="253.33" x2="448.60" y2="253.33" stroke="#000" stroke-width="0.75" stroke-dasharray="2.2 1.1"/>
<line x1="292.00" y1="270.60" x2="292.00" y2="260.90" stroke="#ff2a2a" stroke-width="0.8" />
<path d="M292.00 258.40 L289.85 262.40 L294.15 262.40 Z" fill="#ff2020"/>
<text x="292.00" y="278.20" font-size="5.9" fill="#ff2020" text-anchor="middle" font-weight="bold" stroke="#ff2020" stroke-width="0.15">HFS</text>
<text x="319.20" y="202.60" font-size="7.3" fill="#f0707c" font-weight="bold" textLength="60.20" lengthAdjust="spacingAndGlyphs">mir30shRNA-BDNF</text>
<path d="M398.10 198.50 L402.10 198.50 L402.50 192.90 L402.80 211.90 L403.30 199.10 L403.50 198.80 L403.54 198.53 L403.61 198.73 L403.71 199.28 L403.84 200.26 L403.99 201.67 L404.15 203.44 L404.33 205.45 L404.53 207.57 L404.75 209.66 L404.98 211.59 L405.22 213.29 L405.48 214.68 L405.74 215.76 L406.03 216.50 L406.32 216.94 L406.63 217.10 L406.95 217.02 L407.28 216.73 L407.62 216.29 L407.97 215.72 L408.34 215.07 L408.71 214.34 L409.09 213.58 L409.49 212.80 L409.89 212.00 L410.31 211.22 L410.73 210.45 L411.16 209.69 L411.60 208.96 L412.06 208.27 L412.52 207.60 L412.99 206.96 L413.47 206.35 L413.95 205.78 L414.45 205.24 L414.95 204.73 L415.47 204.25 L415.99 203.80 L416.52 203.38 L417.06 202.99 L417.60 202.62 L418.16 202.28 L418.72 201.96 L419.29 201.66 L419.87 201.39 L420.46 201.14 L421.05 200.90 L421.65 200.69 L422.26 200.49 L422.88 200.31 L423.50 200.14 L424.13 199.99 L424.77 199.84 L425.41 199.72 L426.07 199.60 L426.73 199.49 L427.39 199.39 L428.07 199.30 L428.75 199.22 L429.44 199.15 L430.13 199.08 L430.84 199.02 L431.54 198.97 L432.26 198.92 L432.98 198.87 L433.71 198.83 L434.45 198.80 L435.19 198.76 L435.94 198.73 L436.69 198.71 L437.46 198.69 L438.22 198.66 L439.00 198.65 L439.78 198.63 L440.57 198.61 L441.36 198.60 L442.16 198.59 L442.97 198.58 L443.78 198.57 L444.60 198.56" fill="none" stroke="#3a3a3a" stroke-width="0.42" stroke-linejoin="round" opacity="0.85"/>
<path d="M398.10 198.50 L402.10 198.50 L402.50 192.90 L402.80 211.90 L403.30 199.10 L403.50 198.80 L403.69 198.53 L403.76 198.75 L403.86 199.33 L403.99 200.37 L404.14 201.87 L404.30 203.76 L404.48 205.92 L404.68 208.20 L404.90 210.46 L405.13 212.57 L405.37 214.44 L405.63 216.00 L405.89 217.21 L406.18 218.09 L406.47 218.63 L406.78 218.88 L407.10 218.86 L407.43 218.63 L407.77 218.22 L408.12 217.67 L408.49 217.01 L408.86 216.28 L409.24 215.50 L409.64 214.69 L410.04 213.87 L410.46 213.04 L410.88 212.22 L411.31 211.42 L411.75 210.65 L412.21 209.89 L412.67 209.17 L413.14 208.48 L413.62 207.81 L414.10 207.18 L414.60 206.58 L415.10 206.01 L415.62 205.48 L416.14 204.97 L416.67 204.49 L417.21 204.04 L417.75 203.62 L418.31 203.23 L418.87 202.86 L419.44 202.51 L420.02 202.19 L420.61 201.89 L421.20 201.61 L421.80 201.35 L422.41 201.11 L423.03 200.89 L423.65 200.68 L424.28 200.49 L424.92 200.32 L425.56 200.16 L426.22 200.01 L426.88 199.87 L427.54 199.74 L428.22 199.63 L428.90 199.52 L429.59 199.42 L430.28 199.34 L430.99 199.26 L431.69 199.18 L432.41 199.11 L433.13 199.05 L433.86 199.00 L434.60 198.95 L435.34 198.90 L436.09 198.86 L436.84 198.82 L437.61 198.79 L438.37 198.76 L439.15 198.73 L439.93 198.71 L440.72 198.68 L441.51 198.66 L442.31 198.65 L443.12 198.63 L443.93 198.62 L444.75 198.60" fill="none" stroke="#e86060" stroke-width="0.42" stroke-linejoin="round" opacity="0.85"/>
<line x1="452.40" y1="194.60" x2="455.40" y2="194.60" stroke="#555" stroke-width="0.4" />
<text x="457.00" y="195.50" font-size="2.8" fill="#222" textLength="12.90" lengthAdjust="spacingAndGlyphs">Before HFS</text>
<line x1="452.40" y1="198.50" x2="455.40" y2="198.50" stroke="#f7a0a0" stroke-width="0.4" />
<text x="457.00" y="199.40" font-size="2.8" fill="#ff2828" textLength="11.20" lengthAdjust="spacingAndGlyphs">After HFS</text>
<path d="M436.20 206.70 L436.20 213.20 L445.80 213.20" fill="none" stroke="#222" stroke-width="0.55"/>
<text x="441.40" y="216.40" font-size="2.4" fill="#333" text-anchor="middle" font-weight="bold">10 ms</text>
<text x="435.32" y="209.95" font-size="2.0" fill="#333" text-anchor="middle" font-weight="bold" transform="rotate(-90 435.32 209.95)">100 pA</text>
<line x1="528.50" y1="211.00" x2="528.50" y2="284.00" stroke="#000" stroke-width="1.0" />
<line x1="525.40" y1="283.50" x2="528.50" y2="283.50" stroke="#000" stroke-width="0.9" />
<text x="524.60" y="285.90" font-size="6.431000000000001" fill="#000" text-anchor="end" font-weight="bold" textLength="3.18" lengthAdjust="spacingAndGlyphs">0</text>
<line x1="525.40" y1="259.50" x2="528.50" y2="259.50" stroke="#000" stroke-width="0.9" />
<text x="524.60" y="261.77" font-size="6.431000000000001" fill="#000" text-anchor="end" font-weight="bold" textLength="9.55" lengthAdjust="spacingAndGlyphs">200</text>
<line x1="525.40" y1="235.50" x2="528.50" y2="235.50" stroke="#000" stroke-width="0.9" />
<text x="524.60" y="237.63" font-size="6.431000000000001" fill="#000" text-anchor="end" font-weight="bold" textLength="9.55" lengthAdjust="spacingAndGlyphs">400</text>
<line x1="525.40" y1="211.50" x2="528.50" y2="211.50" stroke="#000" stroke-width="0.9" />
<text x="524.60" y="213.50" font-size="6.431000000000001" fill="#000" text-anchor="end" font-weight="bold" textLength="9.55" lengthAdjust="spacingAndGlyphs">600</text>
<line x1="526.39" y1="271.50" x2="528.50" y2="271.50" stroke="#000" stroke-width="0.85" />
<line x1="526.39" y1="247.50" x2="528.50" y2="247.50" stroke="#000" stroke-width="0.85" />
<line x1="526.39" y1="223.50" x2="528.50" y2="223.50" stroke="#000" stroke-width="0.85" />
<line x1="528.00" y1="283.50" x2="577.80" y2="283.50" stroke="#000" stroke-width="1.0" />
<line x1="541.50" y1="283.50" x2="541.50" y2="286.60" stroke="#000" stroke-width="0.9" />
<line x1="562.50" y1="283.50" x2="562.50" y2="286.60" stroke="#000" stroke-width="0.9" />
<line x1="541.60" y1="229.30" x2="562.70" y2="220.01" stroke="#000" stroke-width="0.55" />
<circle cx="541.60" cy="229.30" r="1.15" fill="#000" />
<circle cx="562.70" cy="220.01" r="1.15" fill="#000" />
<line x1="541.60" y1="251.62" x2="562.70" y2="239.92" stroke="#000" stroke-width="0.55" />
<circle cx="541.60" cy="251.62" r="1.15" fill="#000" />
<circle cx="562.70" cy="239.92" r="1.15" fill="#000" />
<line x1="541.60" y1="246.80" x2="562.70" y2="257.05" stroke="#000" stroke-width="0.55" />
<circle cx="541.60" cy="246.80" r="1.15" fill="#000" />
<circle cx="562.70" cy="257.05" r="1.15" fill="#000" />
<line x1="541.60" y1="260.67" x2="562.70" y2="259.47" stroke="#000" stroke-width="0.55" />
<circle cx="541.60" cy="260.67" r="1.15" fill="#000" />
<circle cx="562.70" cy="259.47" r="1.15" fill="#000" />
<text x="552.20" y="201.90" font-size="7.0" fill="#f0707c" text-anchor="middle" font-weight="bold" textLength="18.70" lengthAdjust="spacingAndGlyphs">BDNF</text>
<text x="504.87" y="247.70" font-size="6.3" fill="#000" text-anchor="middle" font-weight="bold" textLength="47.40" lengthAdjust="spacingAndGlyphs" transform="rotate(-90 504.87 247.70)">eIPSC amplitude</text>
<text x="511.87" y="247.40" font-size="6.3" fill="#000" text-anchor="middle" font-weight="bold" textLength="11.40" lengthAdjust="spacingAndGlyphs" transform="rotate(-90 511.87 247.40)">(pA)</text>
<text x="544.60" y="292.20" font-size="6.3" fill="#000" text-anchor="end" font-weight="bold" textLength="31.20" lengthAdjust="spacingAndGlyphs" transform="rotate(-45 544.60 292.20)">Before HFS</text>
<text x="565.70" y="292.20" font-size="6.3" fill="#000" text-anchor="end" font-weight="bold" textLength="27.20" lengthAdjust="spacingAndGlyphs" transform="rotate(-45 565.70 292.20)">After HFS</text>
<line x1="613.50" y1="211.00" x2="613.50" y2="284.00" stroke="#000" stroke-width="1.0" />
<line x1="610.40" y1="283.50" x2="613.50" y2="283.50" stroke="#000" stroke-width="0.9" />
<text x="609.60" y="285.94" font-size="6.540000000000001" fill="#000" text-anchor="end" font-weight="bold" textLength="8.09" lengthAdjust="spacingAndGlyphs">0.0</text>
<line x1="610.40" y1="259.50" x2="613.50" y2="259.50" stroke="#000" stroke-width="0.9" />
<text x="609.60" y="261.81" font-size="6.540000000000001" fill="#000" text-anchor="end" font-weight="bold" textLength="8.09" lengthAdjust="spacingAndGlyphs">0.5</text>
<line x1="610.40" y1="235.50" x2="613.50" y2="235.50" stroke="#000" stroke-width="0.9" />
<text x="609.60" y="237.67" font-size="6.540000000000001" fill="#000" text-anchor="end" font-weight="bold" textLength="8.09" lengthAdjust="spacingAndGlyphs">1.0</text>
<line x1="610.40" y1="211.50" x2="613.50" y2="211.50" stroke="#000" stroke-width="0.9" />
<text x="609.60" y="213.54" font-size="6.540000000000001" fill="#000" text-anchor="end" font-weight="bold" textLength="8.09" lengthAdjust="spacingAndGlyphs">1.5</text>
<line x1="613.00" y1="283.50" x2="663.00" y2="283.50" stroke="#000" stroke-width="1.0" />
<line x1="627.50" y1="283.50" x2="627.50" y2="286.60" stroke="#000" stroke-width="0.9" />
<line x1="648.50" y1="283.50" x2="648.50" y2="286.60" stroke="#000" stroke-width="0.9" />
<line x1="627.50" y1="235.33" x2="648.50" y2="217.47" stroke="#000" stroke-width="0.55" />
<circle cx="627.50" cy="235.33" r="1.15" fill="#000" />
<circle cx="648.50" cy="217.47" r="1.15" fill="#000" />
<line x1="627.50" y1="235.33" x2="648.50" y2="226.65" stroke="#000" stroke-width="0.55" />
<circle cx="627.50" cy="235.33" r="1.15" fill="#000" />
<circle cx="648.50" cy="226.65" r="1.15" fill="#000" />
<line x1="627.50" y1="235.33" x2="648.50" y2="232.44" stroke="#000" stroke-width="0.55" />
<circle cx="627.50" cy="235.33" r="1.15" fill="#000" />
<circle cx="648.50" cy="232.44" r="1.15" fill="#000" />
<line x1="627.50" y1="235.33" x2="648.50" y2="248.85" stroke="#000" stroke-width="0.55" />
<circle cx="627.50" cy="235.33" r="1.15" fill="#000" />
<circle cx="648.50" cy="248.85" r="1.15" fill="#000" />
<text x="638.20" y="201.90" font-size="7.0" fill="#f0707c" text-anchor="middle" font-weight="bold" textLength="18.50" lengthAdjust="spacingAndGlyphs">BDNF</text>
<text x="592.07" y="247.70" font-size="6.3" fill="#000" text-anchor="middle" font-weight="bold" textLength="81.20" lengthAdjust="spacingAndGlyphs" transform="rotate(-90 592.07 247.70)">Normalized eIPSC amplitude</text>
<text x="630.50" y="292.20" font-size="6.3" fill="#000" text-anchor="end" font-weight="bold" textLength="31.20" lengthAdjust="spacingAndGlyphs" transform="rotate(-45 630.50 292.20)">Before HFS</text>
<text x="651.50" y="292.20" font-size="6.3" fill="#000" text-anchor="end" font-weight="bold" textLength="27.20" lengthAdjust="spacingAndGlyphs" transform="rotate(-45 651.50 292.20)">After HFS</text>
<line x1="1.00" y1="341.60" x2="260.70" y2="341.60" stroke="#2a2a2a" stroke-width="1.3" />
<line x1="388.60" y1="341.60" x2="647.80" y2="341.60" stroke="#2a2a2a" stroke-width="1.3" />
<text x="269.40" y="346.40" font-size="13.7" fill="#000" textLength="114.30" lengthAdjust="spacingAndGlyphs" stroke="#000" stroke-width="0.35">mir30shRNA-Ntrk2</text>
<text x="3.60" y="372.20" font-size="14" fill="#000" textLength="7.36" lengthAdjust="spacingAndGlyphs" stroke="#000" stroke-width="0.4">F</text>
<text x="213.00" y="372.20" font-size="14" fill="#000" textLength="9.37" lengthAdjust="spacingAndGlyphs" stroke="#000" stroke-width="0.4">G</text>
<text x="487.40" y="373.80" font-size="14" fill="#000" textLength="8.69" lengthAdjust="spacingAndGlyphs" stroke="#000" stroke-width="0.4">H</text>
<text x="577.80" y="371.40" font-size="12.5" fill="#000" textLength="2.99" lengthAdjust="spacingAndGlyphs" stroke="#000" stroke-width="0.4">I</text>
<clipPath id="cF1"><rect x="56.9" y="418" width="49.1" height="10.8"/></clipPath><clipPath id="cF2"><rect x="56.9" y="433.3" width="49.1" height="7.2"/></clipPath>
<g clip-path="url(#cF1)">
<rect x="56.90" y="418.00" width="49.10" height="10.80" fill="#d4d4d4" stroke="#555" stroke-width="0.5"/>
<g filter="url(#wb2)">
<rect x="58.40" y="420.70" width="14.40" height="6.20" rx="4.96" ry="3.10" fill="#000" opacity="1"/>
<rect x="64.00" y="420.00" width="8.00" height="5.20" rx="4.16" ry="2.60" fill="#000" opacity="0.8"/>
<rect x="74.80" y="420.00" width="14.40" height="6.40" rx="5.12" ry="3.20" fill="#000" opacity="1"/>
<rect x="80.50" y="419.40" width="8.00" height="4.80" rx="3.84" ry="2.40" fill="#000" opacity="0.8"/>
<rect x="92.00" y="422.20" width="11.20" height="4.00" rx="3.20" ry="2.00" fill="#1a1a1a" opacity="0.8"/>
</g>
</g>
<g clip-path="url(#cF2)">
<rect x="56.90" y="433.30" width="49.10" height="7.20" fill="#b4b4b4" stroke="#333" stroke-width="0.5"/>
<g filter="url(#wb2)">
<rect x="57.80" y="434.90" width="15.20" height="4.20" rx="3.36" ry="2.10" fill="#000" opacity="1"/>
<rect x="74.60" y="435.00" width="14.40" height="4.00" rx="3.20" ry="2.00" fill="#000" opacity="1"/>
<rect x="91.00" y="434.90" width="13.60" height="4.20" rx="3.36" ry="2.10" fill="#000" opacity="1"/>
</g>
</g>
<rect x="56.9" y="418" width="49.1" height="10.8" fill="none" stroke="#555" stroke-width="0.5"/><rect x="56.9" y="433.3" width="49.1" height="7.2" fill="none" stroke="#333" stroke-width="0.5"/>
<text x="22.50" y="426.60" font-size="5.2" fill="#000" textLength="30.50" lengthAdjust="spacingAndGlyphs" stroke="#000" stroke-width="0.12">TrkB(145kDa)</text>
<text x="20.40" y="439.20" font-size="5.2" fill="#000" textLength="34.60" lengthAdjust="spacingAndGlyphs" stroke="#000" stroke-width="0.12">GAPDH(37kDa)</text>
<line x1="149.50" y1="387.00" x2="149.50" y2="465.00" stroke="#000" stroke-width="1.0" />
<line x1="146.40" y1="387.50" x2="149.50" y2="387.50" stroke="#000" stroke-width="0.9" />
<text x="145.60" y="389.47" font-size="5.777" fill="#000" text-anchor="end" font-weight="bold" textLength="7.15" lengthAdjust="spacingAndGlyphs">1.5</text>
<line x1="146.40" y1="413.50" x2="149.50" y2="413.50" stroke="#000" stroke-width="0.9" />
<text x="145.60" y="415.27" font-size="5.777" fill="#000" text-anchor="end" font-weight="bold" textLength="7.15" lengthAdjust="spacingAndGlyphs">1.0</text>
<line x1="146.40" y1="439.50" x2="149.50" y2="439.50" stroke="#000" stroke-width="0.9" />
<text x="145.60" y="441.07" font-size="5.777" fill="#000" text-anchor="end" font-weight="bold" textLength="7.15" lengthAdjust="spacingAndGlyphs">0.5</text>
<line x1="146.40" y1="464.50" x2="149.50" y2="464.50" stroke="#000" stroke-width="0.9" />
<text x="145.60" y="466.87" font-size="5.777" fill="#000" text-anchor="end" font-weight="bold" textLength="7.15" lengthAdjust="spacingAndGlyphs">0.0</text>
<line x1="160.50" y1="404.43" x2="160.50" y2="413.20" stroke="#000" stroke-width="0.8" />
<line x1="158.30" y1="404.43" x2="162.70" y2="404.43" stroke="#000" stroke-width="0.8" />
<rect x="155.40" y="413.20" width="10.20" height="51.60" fill="#000" />
<line x1="175.90" y1="401.59" x2="175.90" y2="411.39" stroke="#a2a2a6" stroke-width="0.8" />
<line x1="173.70" y1="401.59" x2="178.10" y2="401.59" stroke="#a2a2a6" stroke-width="0.8" />
<rect x="171.00" y="411.39" width="9.80" height="53.41" fill="#a2a2a6" />
<line x1="191.20" y1="445.19" x2="191.20" y2="449.84" stroke="#4d9cf5" stroke-width="0.8" />
<line x1="189.00" y1="445.19" x2="193.40" y2="445.19" stroke="#4d9cf5" stroke-width="0.8" />
<rect x="185.40" y="449.84" width="11.60" height="14.96" fill="#4d9cf5" />
<line x1="149.00" y1="464.50" x2="202.90" y2="464.50" stroke="#000" stroke-width="1.0" />
<line x1="160.50" y1="464.50" x2="160.50" y2="467.60" stroke="#000" stroke-width="0.9" />
<line x1="175.50" y1="464.50" x2="175.50" y2="467.60" stroke="#000" stroke-width="0.9" />
<line x1="191.50" y1="464.50" x2="191.50" y2="467.60" stroke="#000" stroke-width="0.9" />
<circle cx="160.40" cy="399.78" r="1.05" fill="#fff" stroke="#222" stroke-width="0.55"/>
<circle cx="160.40" cy="407.01" r="1.05" fill="#fff" stroke="#222" stroke-width="0.55"/>
<rect x="159.60" y="438.46" width="1.60" height="1.60" fill="#fff" />
<circle cx="175.80" cy="396.69" r="1.05" fill="#fff" stroke="#999" stroke-width="0.55"/>
<circle cx="175.80" cy="401.85" r="1.2" fill="#fff" stroke="#b5b5b5" stroke-width="0.55"/>
<rect x="175.20" y="436.14" width="1.60" height="1.60" fill="#fff" />
<circle cx="188.60" cy="441.58" r="0.95" fill="#fff" stroke="#4d9cf5" stroke-width="0.55"/>
<circle cx="194.40" cy="442.10" r="0.95" fill="#fff" stroke="#4d9cf5" stroke-width="0.55"/>
<rect x="190.60" y="453.94" width="1.60" height="1.60" fill="#fff" />
<rect x="190.60" y="461.16" width="1.60" height="1.60" fill="#fff" />
<line x1="160.30" y1="383.30" x2="191.70" y2="383.30" stroke="#111" stroke-width="0.7" />
<line x1="160.30" y1="392.40" x2="175.80" y2="392.40" stroke="#111" stroke-width="0.7" />
<text x="176.00" y="382.80" font-size="5.4" fill="#333" text-anchor="middle" font-weight="bold">*</text>
<text x="168.00" y="391.90" font-size="5.4" fill="#333" text-anchor="middle" font-weight="bold">*</text>
<text x="126.50" y="426.30" font-size="6.4" fill="#000" text-anchor="middle" font-weight="bold" textLength="52.60" lengthAdjust="spacingAndGlyphs" transform="rotate(-90 126.50 426.30)">Raltive TrkB level</text>
<text x="133.90" y="425.40" font-size="6.4" fill="#000" text-anchor="middle" font-weight="bold" textLength="34.50" lengthAdjust="spacingAndGlyphs" transform="rotate(-90 133.90 425.40)">(vs control)</text>
<text x="163.60" y="475.30" font-size="6.3" fill="#000" text-anchor="end" font-weight="bold" textLength="27.90" lengthAdjust="spacingAndGlyphs" transform="rotate(-45 163.60 475.30)">Wild-type</text>
<text x="179.00" y="475.30" font-size="6.3" fill="#000" text-anchor="end" font-weight="bold" textLength="65.80" lengthAdjust="spacingAndGlyphs" transform="rotate(-45 179.00 475.30)">mir30shRNA-Scramble</text>
<text x="194.30" y="475.30" font-size="6.3" fill="#000" text-anchor="end" font-weight="bold" textLength="53.50" lengthAdjust="spacingAndGlyphs" transform="rotate(-45 194.30 475.30)">mir30shRNA-Ntrk2</text>
<line x1="255.50" y1="393.00" x2="255.50" y2="467.00" stroke="#000" stroke-width="1.0" />
<line x1="252.40" y1="466.50" x2="255.50" y2="466.50" stroke="#000" stroke-width="0.9" />
<text x="251.60" y="468.17" font-size="5.777" fill="#000" text-anchor="end" font-weight="bold" textLength="2.86" lengthAdjust="spacingAndGlyphs">0</text>
<line x1="252.40" y1="448.50" x2="255.50" y2="448.50" stroke="#000" stroke-width="0.9" />
<text x="251.60" y="450.12" font-size="5.777" fill="#000" text-anchor="end" font-weight="bold" textLength="8.58" lengthAdjust="spacingAndGlyphs">200</text>
<line x1="252.40" y1="430.50" x2="255.50" y2="430.50" stroke="#000" stroke-width="0.9" />
<text x="251.60" y="432.07" font-size="5.777" fill="#000" text-anchor="end" font-weight="bold" textLength="8.58" lengthAdjust="spacingAndGlyphs">400</text>
<line x1="252.40" y1="411.50" x2="255.50" y2="411.50" stroke="#000" stroke-width="0.9" />
<text x="251.60" y="414.02" font-size="5.777" fill="#000" text-anchor="end" font-weight="bold" textLength="8.58" lengthAdjust="spacingAndGlyphs">600</text>
<line x1="252.40" y1="393.50" x2="255.50" y2="393.50" stroke="#000" stroke-width="0.9" />
<text x="251.60" y="395.97" font-size="5.777" fill="#000" text-anchor="end" font-weight="bold" textLength="8.58" lengthAdjust="spacingAndGlyphs">800</text>
<line x1="253.39" y1="457.50" x2="255.50" y2="457.50" stroke="#000" stroke-width="0.85" />
<line x1="253.39" y1="439.50" x2="255.50" y2="439.50" stroke="#000" stroke-width="0.85" />
<line x1="253.39" y1="420.50" x2="255.50" y2="420.50" stroke="#000" stroke-width="0.85" />
<line x1="253.39" y1="402.50" x2="255.50" y2="402.50" stroke="#000" stroke-width="0.85" />
<line x1="255.00" y1="466.50" x2="456.30" y2="466.50" stroke="#000" stroke-width="1.0" />
<line x1="255.50" y1="466.50" x2="255.50" y2="469.60" stroke="#000" stroke-width="0.9" />
<text x="255.00" y="476.90" font-size="5.777" fill="#000" text-anchor="middle" font-weight="bold" textLength="7.43" lengthAdjust="spacingAndGlyphs">-10</text>
<text x="294.60" y="476.90" font-size="5.777" fill="#000" text-anchor="middle" font-weight="bold" textLength="2.86" lengthAdjust="spacingAndGlyphs">0</text>
<text x="299.50" y="476.90" font-size="5.777" fill="#000" text-anchor="middle" font-weight="bold" textLength="2.86" lengthAdjust="spacingAndGlyphs">0</text>
<line x1="346.50" y1="466.50" x2="346.50" y2="469.60" stroke="#000" stroke-width="0.9" />
<text x="346.70" y="476.90" font-size="5.777" fill="#000" text-anchor="middle" font-weight="bold" textLength="5.72" lengthAdjust="spacingAndGlyphs">10</text>
<line x1="393.50" y1="466.50" x2="393.50" y2="469.60" stroke="#000" stroke-width="0.9" />
<text x="393.90" y="476.90" font-size="5.777" fill="#000" text-anchor="middle" font-weight="bold" textLength="5.72" lengthAdjust="spacingAndGlyphs">20</text>
<line x1="441.50" y1="466.50" x2="441.50" y2="469.60" stroke="#000" stroke-width="0.9" />
<text x="441.10" y="476.90" font-size="5.777" fill="#000" text-anchor="middle" font-weight="bold" textLength="5.72" lengthAdjust="spacingAndGlyphs">30</text>
<line x1="274.50" y1="466.50" x2="274.50" y2="468.61" stroke="#000" stroke-width="0.85" />
<line x1="323.50" y1="466.50" x2="323.50" y2="468.61" stroke="#000" stroke-width="0.85" />
<line x1="370.50" y1="466.50" x2="370.50" y2="468.61" stroke="#000" stroke-width="0.85" />
<line x1="417.50" y1="466.50" x2="417.50" y2="468.61" stroke="#000" stroke-width="0.85" />
<rect x="295.40" y="465.10" width="3.30" height="2.00" fill="#fff" />
<line x1="293.05" y1="467.85" x2="296.15" y2="464.35" stroke="#000" stroke-width="1.0" />
<line x1="297.95" y1="467.85" x2="301.05" y2="464.35" stroke="#000" stroke-width="1.0" />
<text x="356.20" y="484.80" font-size="6.2" fill="#000" text-anchor="middle" font-weight="bold" textLength="29.50" lengthAdjust="spacingAndGlyphs">Time (min)</text>
<text x="231.43" y="430.60" font-size="6.2" fill="#000" text-anchor="middle" font-weight="bold" textLength="47.40" lengthAdjust="spacingAndGlyphs" transform="rotate(-90 231.43 430.60)">eIPSC amplitude</text>
<text x="238.63" y="430.60" font-size="6.2" fill="#000" text-anchor="middle" font-weight="bold" textLength="10.50" lengthAdjust="spacingAndGlyphs" transform="rotate(-90 238.63 430.60)">(pA)</text>
<g fill="#5656f8"><circle cx="255.4" cy="437.2" r="1.5"/><circle cx="256.2" cy="430.0" r="1.5"/><circle cx="256.3" cy="433.2" r="1.5"/><circle cx="257.0" cy="446.8" r="1.5"/><circle cx="257.6" cy="454.2" r="1.5"/><circle cx="258.3" cy="442.8" r="1.5"/><circle cx="259.0" cy="437.9" r="1.5"/><circle cx="259.6" cy="432.3" r="1.5"/><circle cx="260.3" cy="453.2" r="1.5"/><circle cx="260.9" cy="453.9" r="1.5"/><circle cx="261.6" cy="435.8" r="1.5"/><circle cx="262.3" cy="437.9" r="1.5"/><circle cx="262.9" cy="428.3" r="1.5"/><circle cx="263.6" cy="433.3" r="1.5"/><circle cx="264.2" cy="443.1" r="1.5"/><circle cx="264.9" cy="444.7" r="1.5"/><circle cx="265.6" cy="444.8" r="1.5"/><circle cx="266.2" cy="449.3" r="1.5"/><circle cx="266.9" cy="452.5" r="1.5"/><circle cx="267.5" cy="441.3" r="1.5"/><circle cx="268.2" cy="440.9" r="1.5"/><circle cx="268.9" cy="445.3" r="1.5"/><circle cx="269.5" cy="442.7" r="1.5"/><circle cx="270.2" cy="439.7" r="1.5"/><circle cx="270.8" cy="435.9" r="1.5"/><circle cx="271.5" cy="432.3" r="1.5"/><circle cx="272.2" cy="440.3" r="1.5"/><circle cx="272.8" cy="458.3" r="1.5"/><circle cx="273.5" cy="435.9" r="1.5"/><circle cx="274.1" cy="455.0" r="1.5"/><circle cx="274.8" cy="443.7" r="1.5"/><circle cx="275.5" cy="455.5" r="1.5"/><circle cx="276.1" cy="442.2" r="1.5"/><circle cx="276.8" cy="449.2" r="1.5"/><circle cx="277.4" cy="440.3" r="1.5"/><circle cx="278.1" cy="442.6" r="1.5"/><circle cx="278.8" cy="434.6" r="1.5"/><circle cx="279.4" cy="454.1" r="1.5"/><circle cx="280.1" cy="444.8" r="1.5"/><circle cx="280.7" cy="436.2" r="1.5"/><circle cx="281.4" cy="443.0" r="1.5"/><circle cx="282.1" cy="438.8" r="1.5"/><circle cx="282.7" cy="441.3" r="1.5"/><circle cx="283.4" cy="451.3" r="1.5"/><circle cx="284.0" cy="437.1" r="1.5"/><circle cx="284.7" cy="449.5" r="1.5"/><circle cx="285.4" cy="425.3" r="1.5"/><circle cx="286.0" cy="446.7" r="1.5"/><circle cx="286.7" cy="436.0" r="1.5"/><circle cx="287.3" cy="442.2" r="1.5"/><circle cx="288.0" cy="433.6" r="1.5"/><circle cx="288.7" cy="447.6" r="1.5"/><circle cx="289.3" cy="433.2" r="1.5"/><circle cx="290.0" cy="443.3" r="1.5"/><circle cx="290.6" cy="430.8" r="1.5"/><circle cx="291.3" cy="436.6" r="1.5"/><circle cx="292.0" cy="440.9" r="1.5"/><circle cx="292.6" cy="449.2" r="1.5"/><circle cx="293.3" cy="435.3" r="1.5"/><circle cx="293.9" cy="438.0" r="1.5"/><circle cx="300.9" cy="422.4" r="1.5"/><circle cx="301.7" cy="442.7" r="1.5"/><circle cx="302.5" cy="433.3" r="1.5"/><circle cx="303.3" cy="433.7" r="1.5"/><circle cx="304.0" cy="435.9" r="1.5"/><circle cx="304.8" cy="436.7" r="1.5"/><circle cx="305.6" cy="436.9" r="1.5"/><circle cx="306.4" cy="444.7" r="1.5"/><circle cx="307.1" cy="448.9" r="1.5"/><circle cx="307.9" cy="442.6" r="1.5"/><circle cx="308.7" cy="432.6" r="1.5"/><circle cx="309.5" cy="423.3" r="1.5"/><circle cx="310.3" cy="428.6" r="1.5"/><circle cx="311.0" cy="427.8" r="1.5"/><circle cx="311.8" cy="430.6" r="1.5"/><circle cx="312.6" cy="431.3" r="1.5"/><circle cx="313.4" cy="436.5" r="1.5"/><circle cx="314.2" cy="430.5" r="1.5"/><circle cx="314.9" cy="420.4" r="1.5"/><circle cx="315.7" cy="441.6" r="1.5"/><circle cx="316.5" cy="445.2" r="1.5"/><circle cx="317.3" cy="418.4" r="1.5"/><circle cx="318.0" cy="435.7" r="1.5"/><circle cx="318.8" cy="428.3" r="1.5"/><circle cx="319.6" cy="429.2" r="1.5"/><circle cx="320.4" cy="449.5" r="1.5"/><circle cx="321.2" cy="420.0" r="1.5"/><circle cx="321.9" cy="436.2" r="1.5"/><circle cx="322.7" cy="430.3" r="1.5"/><circle cx="323.5" cy="436.6" r="1.5"/><circle cx="324.3" cy="446.8" r="1.5"/><circle cx="325.1" cy="438.9" r="1.5"/><circle cx="325.8" cy="434.0" r="1.5"/><circle cx="326.6" cy="426.5" r="1.5"/><circle cx="327.4" cy="430.5" r="1.5"/><circle cx="328.2" cy="437.1" r="1.5"/><circle cx="329.0" cy="423.9" r="1.5"/><circle cx="329.7" cy="445.3" r="1.5"/><circle cx="330.5" cy="429.5" r="1.5"/><circle cx="331.3" cy="426.3" r="1.5"/><circle cx="332.1" cy="440.4" r="1.5"/><circle cx="332.8" cy="455.5" r="1.5"/><circle cx="333.6" cy="446.6" r="1.5"/><circle cx="334.4" cy="435.0" r="1.5"/><circle cx="335.2" cy="432.0" r="1.5"/><circle cx="336.0" cy="421.6" r="1.5"/><circle cx="336.7" cy="447.4" r="1.5"/><circle cx="337.5" cy="437.2" r="1.5"/><circle cx="338.3" cy="430.6" r="1.5"/><circle cx="339.1" cy="438.7" r="1.5"/><circle cx="339.9" cy="428.9" r="1.5"/><circle cx="340.6" cy="426.9" r="1.5"/><circle cx="341.4" cy="446.3" r="1.5"/><circle cx="342.2" cy="441.2" r="1.5"/><circle cx="343.0" cy="434.7" r="1.5"/><circle cx="343.8" cy="430.7" r="1.5"/><circle cx="344.5" cy="435.7" r="1.5"/><circle cx="345.3" cy="421.1" r="1.5"/><circle cx="346.1" cy="437.6" r="1.5"/><circle cx="346.9" cy="417.9" r="1.5"/><circle cx="347.6" cy="443.6" r="1.5"/><circle cx="348.4" cy="441.5" r="1.5"/><circle cx="349.2" cy="429.4" r="1.5"/><circle cx="350.0" cy="422.2" r="1.5"/><circle cx="350.8" cy="430.0" r="1.5"/><circle cx="351.5" cy="433.5" r="1.5"/><circle cx="352.3" cy="454.9" r="1.5"/><circle cx="353.1" cy="443.7" r="1.5"/><circle cx="353.9" cy="442.6" r="1.5"/><circle cx="354.7" cy="441.8" r="1.5"/><circle cx="355.4" cy="430.4" r="1.5"/><circle cx="356.2" cy="439.7" r="1.5"/><circle cx="357.0" cy="428.3" r="1.5"/><circle cx="357.8" cy="435.4" r="1.5"/><circle cx="358.5" cy="439.6" r="1.5"/><circle cx="359.3" cy="435.0" r="1.5"/><circle cx="360.1" cy="431.8" r="1.5"/><circle cx="360.9" cy="427.4" r="1.5"/><circle cx="361.7" cy="440.9" r="1.5"/><circle cx="362.4" cy="438.4" r="1.5"/><circle cx="363.2" cy="449.8" r="1.5"/><circle cx="364.0" cy="419.7" r="1.5"/><circle cx="364.8" cy="421.2" r="1.5"/><circle cx="365.6" cy="437.7" r="1.5"/><circle cx="366.3" cy="440.7" r="1.5"/><circle cx="367.1" cy="448.3" r="1.5"/><circle cx="367.9" cy="434.0" r="1.5"/><circle cx="368.7" cy="433.6" r="1.5"/><circle cx="369.5" cy="433.2" r="1.5"/><circle cx="370.2" cy="443.5" r="1.5"/><circle cx="371.0" cy="421.4" r="1.5"/><circle cx="371.8" cy="433.7" r="1.5"/><circle cx="372.6" cy="451.8" r="1.5"/><circle cx="373.3" cy="433.7" r="1.5"/><circle cx="374.1" cy="451.7" r="1.5"/><circle cx="374.9" cy="424.1" r="1.5"/><circle cx="375.7" cy="429.6" r="1.5"/><circle cx="376.5" cy="437.1" r="1.5"/><circle cx="377.2" cy="456.9" r="1.5"/><circle cx="378.0" cy="436.5" r="1.5"/><circle cx="378.8" cy="450.9" r="1.5"/><circle cx="379.6" cy="429.2" r="1.5"/><circle cx="380.4" cy="456.8" r="1.5"/><circle cx="381.1" cy="444.3" r="1.5"/><circle cx="381.9" cy="422.8" r="1.5"/><circle cx="382.7" cy="418.4" r="1.5"/><circle cx="383.5" cy="447.0" r="1.5"/><circle cx="384.2" cy="450.5" r="1.5"/><circle cx="385.0" cy="426.0" r="1.5"/><circle cx="385.8" cy="426.3" r="1.5"/><circle cx="386.6" cy="444.8" r="1.5"/><circle cx="387.4" cy="441.8" r="1.5"/><circle cx="388.1" cy="441.8" r="1.5"/><circle cx="388.9" cy="446.8" r="1.5"/><circle cx="389.7" cy="441.6" r="1.5"/><circle cx="390.5" cy="422.0" r="1.5"/><circle cx="391.3" cy="427.7" r="1.5"/><circle cx="392.0" cy="435.5" r="1.5"/><circle cx="392.8" cy="435.9" r="1.5"/><circle cx="393.6" cy="444.5" r="1.5"/><circle cx="394.4" cy="435.7" r="1.5"/><circle cx="395.2" cy="447.7" r="1.5"/><circle cx="395.9" cy="452.4" r="1.5"/><circle cx="396.7" cy="427.3" r="1.5"/><circle cx="397.5" cy="419.8" r="1.5"/><circle cx="398.3" cy="425.8" r="1.5"/><circle cx="399.0" cy="420.8" r="1.5"/><circle cx="399.8" cy="431.7" r="1.5"/><circle cx="400.6" cy="441.5" r="1.5"/><circle cx="401.4" cy="433.3" r="1.5"/><circle cx="402.2" cy="437.9" r="1.5"/><circle cx="402.9" cy="445.3" r="1.5"/><circle cx="403.7" cy="451.2" r="1.5"/><circle cx="404.5" cy="449.0" r="1.5"/><circle cx="405.3" cy="434.0" r="1.5"/><circle cx="406.1" cy="432.4" r="1.5"/><circle cx="406.8" cy="438.7" r="1.5"/><circle cx="407.6" cy="419.4" r="1.5"/><circle cx="408.4" cy="432.0" r="1.5"/><circle cx="409.2" cy="427.9" r="1.5"/><circle cx="409.9" cy="421.4" r="1.5"/><circle cx="410.7" cy="442.0" r="1.5"/><circle cx="411.5" cy="453.6" r="1.5"/><circle cx="412.3" cy="426.0" r="1.5"/><circle cx="413.1" cy="440.6" r="1.5"/><circle cx="413.8" cy="420.3" r="1.5"/><circle cx="414.6" cy="430.1" r="1.5"/><circle cx="415.4" cy="423.3" r="1.5"/><circle cx="416.2" cy="425.7" r="1.5"/><circle cx="417.0" cy="454.4" r="1.5"/><circle cx="417.7" cy="426.1" r="1.5"/><circle cx="418.5" cy="440.1" r="1.5"/><circle cx="419.3" cy="440.9" r="1.5"/><circle cx="420.1" cy="437.7" r="1.5"/><circle cx="420.9" cy="425.5" r="1.5"/><circle cx="421.6" cy="424.2" r="1.5"/><circle cx="422.4" cy="422.9" r="1.5"/><circle cx="423.2" cy="449.9" r="1.5"/><circle cx="424.0" cy="439.0" r="1.5"/><circle cx="424.7" cy="457.0" r="1.5"/><circle cx="425.5" cy="434.0" r="1.5"/><circle cx="426.3" cy="426.9" r="1.5"/><circle cx="427.1" cy="440.6" r="1.5"/><circle cx="427.9" cy="430.4" r="1.5"/><circle cx="428.6" cy="430.5" r="1.5"/><circle cx="429.4" cy="422.6" r="1.5"/><circle cx="430.2" cy="441.1" r="1.5"/><circle cx="431.0" cy="441.1" r="1.5"/><circle cx="431.8" cy="440.4" r="1.5"/><circle cx="432.5" cy="421.6" r="1.5"/><circle cx="433.3" cy="433.9" r="1.5"/><circle cx="434.1" cy="430.3" r="1.5"/><circle cx="434.9" cy="431.4" r="1.5"/><circle cx="435.6" cy="430.5" r="1.5"/><circle cx="436.4" cy="434.6" r="1.5"/><circle cx="437.2" cy="435.8" r="1.5"/><circle cx="438.0" cy="445.1" r="1.5"/><circle cx="438.8" cy="438.9" r="1.5"/><circle cx="439.5" cy="426.9" r="1.5"/><circle cx="440.3" cy="431.6" r="1.5"/><circle cx="441.1" cy="434.4" r="1.5"/><circle cx="441.9" cy="431.6" r="1.5"/><circle cx="442.7" cy="428.6" r="1.5"/><circle cx="443.4" cy="438.7" r="1.5"/><circle cx="444.2" cy="430.1" r="1.5"/><circle cx="445.0" cy="429.6" r="1.5"/><circle cx="445.8" cy="439.6" r="1.5"/><circle cx="446.6" cy="440.0" r="1.5"/><circle cx="447.3" cy="442.1" r="1.5"/><circle cx="448.1" cy="442.7" r="1.5"/><circle cx="448.9" cy="422.9" r="1.5"/><circle cx="449.7" cy="455.7" r="1.5"/><circle cx="450.4" cy="434.5" r="1.5"/><circle cx="451.2" cy="437.9" r="1.5"/><circle cx="452.0" cy="438.0" r="1.5"/><circle cx="452.8" cy="430.7" r="1.5"/><circle cx="453.6" cy="420.3" r="1.5"/><circle cx="454.3" cy="430.9" r="1.5"/><circle cx="455.1" cy="433.0" r="1.5"/><circle cx="455.9" cy="437.7" r="1.5"/></g>
<line x1="255.00" y1="438.50" x2="455.80" y2="438.50" stroke="#222" stroke-width="0.7" stroke-dasharray="2 0.9"/>
<line x1="297.60" y1="456.60" x2="297.60" y2="449.90" stroke="#ff2a2a" stroke-width="0.8" />
<path d="M297.60 447.40 L295.45 451.40 L299.75 451.40 Z" fill="#ff2020"/>
<text x="297.60" y="462.80" font-size="5.9" fill="#ff2020" text-anchor="middle" font-weight="bold" stroke="#ff2020" stroke-width="0.15">HFS</text>
<text x="324.70" y="384.00" font-size="7.3" fill="#4a4af4" font-weight="bold" textLength="61.40" lengthAdjust="spacingAndGlyphs">mir30shRNA-Ntrk2</text>
<path d="M391.20 387.50 L394.30 387.50 L394.70 378.90 L395.00 409.70 L395.50 388.10 L395.70 387.80 L395.74 387.56 L395.82 388.02 L395.92 389.13 L396.05 390.88 L396.20 393.07 L396.37 395.43 L396.56 397.67 L396.76 399.61 L396.98 401.14 L397.22 402.25 L397.47 402.98 L397.73 403.37 L398.01 403.50 L398.30 403.44 L398.60 403.24 L398.92 402.96 L399.25 402.62 L399.59 402.24 L399.94 401.85 L400.30 401.46 L400.68 401.06 L401.06 400.67 L401.46 400.29 L401.86 399.92 L402.28 399.56 L402.70 399.21 L403.14 398.87 L403.59 398.53 L404.04 398.21 L404.51 397.89 L404.98 397.58 L405.46 397.28 L405.96 396.98 L406.46 396.69 L406.97 396.41 L407.49 396.13 L408.02 395.85 L408.55 395.59 L409.10 395.33 L409.65 395.07 L410.22 394.82 L410.79 394.58 L411.37 394.34 L411.95 394.10 L412.55 393.88 L413.15 393.65 L413.76 393.43 L414.38 393.22 L415.01 393.01 L415.64 392.81 L416.28 392.61 L416.93 392.42 L417.59 392.24 L418.25 392.05 L418.93 391.88 L419.61 391.71 L420.29 391.54 L420.99 391.38 L421.69 391.22 L422.40 391.07 L423.11 390.92 L423.83 390.78 L424.56 390.64 L425.30 390.51 L426.04 390.38 L426.79 390.26 L427.55 390.14 L428.31 390.02 L429.09 389.91 L429.86 389.80 L430.65 389.70 L431.44 389.60 L432.24 389.50 L433.04 389.41 L433.85 389.32 L434.67 389.23 L435.49 389.15 L436.32 389.07 L437.16 389.00 L438.00 388.93" fill="none" stroke="#3a3a3a" stroke-width="0.42" stroke-linejoin="round" opacity="0.85"/>
<path d="M391.20 387.50 L394.30 387.50 L394.70 378.90 L395.00 409.70 L395.50 388.10 L395.70 387.80 L395.89 387.57 L395.97 388.07 L396.07 389.28 L396.20 391.19 L396.35 393.59 L396.52 396.16 L396.71 398.62 L396.91 400.75 L397.13 402.44 L397.37 403.68 L397.62 404.48 L397.88 404.93 L398.16 405.10 L398.45 405.05 L398.75 404.86 L399.07 404.57 L399.40 404.21 L399.74 403.83 L400.09 403.42 L400.45 403.00 L400.83 402.59 L401.21 402.19 L401.61 401.79 L402.01 401.40 L402.43 401.02 L402.85 400.65 L403.29 400.29 L403.74 399.94 L404.19 399.60 L404.66 399.26 L405.13 398.94 L405.61 398.62 L406.11 398.30 L406.61 398.00 L407.12 397.69 L407.64 397.40 L408.17 397.11 L408.70 396.82 L409.25 396.55 L409.80 396.27 L410.37 396.00 L410.94 395.74 L411.52 395.48 L412.10 395.23 L412.70 394.98 L413.30 394.74 L413.91 394.50 L414.53 394.27 L415.16 394.04 L415.79 393.82 L416.43 393.60 L417.08 393.39 L417.74 393.18 L418.40 392.98 L419.08 392.78 L419.76 392.59 L420.44 392.40 L421.14 392.22 L421.84 392.04 L422.55 391.87 L423.26 391.70 L423.98 391.54 L424.71 391.38 L425.45 391.23 L426.19 391.08 L426.94 390.94 L427.70 390.80 L428.46 390.67 L429.24 390.54 L430.01 390.41 L430.80 390.29 L431.59 390.17 L432.39 390.06 L433.19 389.95 L434.00 389.84 L434.82 389.74 L435.64 389.64 L436.47 389.55 L437.31 389.46 L438.15 389.37" fill="none" stroke="#e86060" stroke-width="0.42" stroke-linejoin="round" opacity="0.85"/>
<line x1="445.00" y1="380.50" x2="448.00" y2="380.50" stroke="#555" stroke-width="0.4" />
<text x="449.60" y="381.40" font-size="2.8" fill="#222" textLength="12.90" lengthAdjust="spacingAndGlyphs">Before HFS</text>
<line x1="445.00" y1="385.20" x2="448.00" y2="385.20" stroke="#f7a0a0" stroke-width="0.4" />
<text x="449.60" y="386.10" font-size="2.8" fill="#ff2828" textLength="11.20" lengthAdjust="spacingAndGlyphs">After HFS</text>
<path d="M430.30 399.20 L430.30 407.40 L439.60 407.40" fill="none" stroke="#222" stroke-width="0.55"/>
<text x="435.35" y="410.60" font-size="2.4" fill="#333" text-anchor="middle" font-weight="bold">10 ms</text>
<text x="429.42" y="403.30" font-size="2.0" fill="#333" text-anchor="middle" font-weight="bold" transform="rotate(-90 429.42 403.30)">100 pA</text>
<line x1="529.50" y1="392.00" x2="529.50" y2="465.00" stroke="#000" stroke-width="1.0" />
<line x1="526.40" y1="464.50" x2="529.50" y2="464.50" stroke="#000" stroke-width="0.9" />
<text x="525.60" y="466.80" font-size="6.431000000000001" fill="#000" text-anchor="end" font-weight="bold" textLength="3.18" lengthAdjust="spacingAndGlyphs">0</text>
<line x1="526.40" y1="440.50" x2="529.50" y2="440.50" stroke="#000" stroke-width="0.9" />
<text x="525.60" y="442.67" font-size="6.431000000000001" fill="#000" text-anchor="end" font-weight="bold" textLength="9.55" lengthAdjust="spacingAndGlyphs">200</text>
<line x1="526.40" y1="416.50" x2="529.50" y2="416.50" stroke="#000" stroke-width="0.9" />
<text x="525.60" y="418.53" font-size="6.431000000000001" fill="#000" text-anchor="end" font-weight="bold" textLength="9.55" lengthAdjust="spacingAndGlyphs">400</text>
<line x1="526.40" y1="392.50" x2="529.50" y2="392.50" stroke="#000" stroke-width="0.9" />
<text x="525.60" y="394.40" font-size="6.431000000000001" fill="#000" text-anchor="end" font-weight="bold" textLength="9.55" lengthAdjust="spacingAndGlyphs">600</text>
<line x1="527.39" y1="452.50" x2="529.50" y2="452.50" stroke="#000" stroke-width="0.85" />
<line x1="527.39" y1="428.50" x2="529.50" y2="428.50" stroke="#000" stroke-width="0.85" />
<line x1="527.39" y1="404.50" x2="529.50" y2="404.50" stroke="#000" stroke-width="0.85" />
<line x1="529.00" y1="464.50" x2="579.50" y2="464.50" stroke="#000" stroke-width="1.0" />
<line x1="545.50" y1="464.50" x2="545.50" y2="467.60" stroke="#000" stroke-width="0.9" />
<line x1="566.50" y1="464.50" x2="566.50" y2="467.60" stroke="#000" stroke-width="0.9" />
<line x1="545.70" y1="418.65" x2="566.50" y2="416.23" stroke="#000" stroke-width="0.55" />
<circle cx="545.70" cy="418.65" r="1.15" fill="#000" />
<circle cx="566.50" cy="416.23" r="1.15" fill="#000" />
<line x1="545.70" y1="419.25" x2="566.50" y2="427.70" stroke="#000" stroke-width="0.55" />
<circle cx="545.70" cy="419.25" r="1.15" fill="#000" />
<circle cx="566.50" cy="427.70" r="1.15" fill="#000" />
<line x1="545.70" y1="427.70" x2="566.50" y2="424.08" stroke="#000" stroke-width="0.55" />
<circle cx="545.70" cy="427.70" r="1.15" fill="#000" />
<circle cx="566.50" cy="424.08" r="1.15" fill="#000" />
<line x1="545.70" y1="443.38" x2="566.50" y2="439.76" stroke="#000" stroke-width="0.55" />
<circle cx="545.70" cy="443.38" r="1.15" fill="#000" />
<circle cx="566.50" cy="439.76" r="1.15" fill="#000" />
<text x="556.20" y="382.80" font-size="7.4" fill="#4d9cf5" text-anchor="middle" font-weight="bold" textLength="17.20" lengthAdjust="spacingAndGlyphs">Ntrk2</text>
<text x="509.27" y="428.60" font-size="6.3" fill="#000" text-anchor="middle" font-weight="bold" textLength="46.90" lengthAdjust="spacingAndGlyphs" transform="rotate(-90 509.27 428.60)">eIPSC amplitude</text>
<text x="516.57" y="428.00" font-size="6.3" fill="#000" text-anchor="middle" font-weight="bold" textLength="11.40" lengthAdjust="spacingAndGlyphs" transform="rotate(-90 516.57 428.00)">(pA)</text>
<text x="548.70" y="473.70" font-size="6.3" fill="#000" text-anchor="end" font-weight="bold" textLength="31.20" lengthAdjust="spacingAndGlyphs" transform="rotate(-45 548.70 473.70)">Before HFS</text>
<text x="569.50" y="473.70" font-size="6.3" fill="#000" text-anchor="end" font-weight="bold" textLength="27.20" lengthAdjust="spacingAndGlyphs" transform="rotate(-45 569.50 473.70)">After HFS</text>
<line x1="614.50" y1="392.00" x2="614.50" y2="466.00" stroke="#000" stroke-width="1.0" />
<line x1="611.40" y1="465.50" x2="614.50" y2="465.50" stroke="#000" stroke-width="0.9" />
<text x="610.60" y="467.44" font-size="6.540000000000001" fill="#000" text-anchor="end" font-weight="bold" textLength="8.09" lengthAdjust="spacingAndGlyphs">0.0</text>
<line x1="611.40" y1="440.50" x2="614.50" y2="440.50" stroke="#000" stroke-width="0.9" />
<text x="610.60" y="443.31" font-size="6.540000000000001" fill="#000" text-anchor="end" font-weight="bold" textLength="8.09" lengthAdjust="spacingAndGlyphs">0.5</text>
<line x1="611.40" y1="416.50" x2="614.50" y2="416.50" stroke="#000" stroke-width="0.9" />
<text x="610.60" y="419.17" font-size="6.540000000000001" fill="#000" text-anchor="end" font-weight="bold" textLength="8.09" lengthAdjust="spacingAndGlyphs">1.0</text>
<line x1="611.40" y1="392.50" x2="614.50" y2="392.50" stroke="#000" stroke-width="0.9" />
<text x="610.60" y="395.04" font-size="6.540000000000001" fill="#000" text-anchor="end" font-weight="bold" textLength="8.09" lengthAdjust="spacingAndGlyphs">1.5</text>
<line x1="614.00" y1="465.50" x2="663.00" y2="465.50" stroke="#000" stroke-width="1.0" />
<line x1="627.50" y1="465.50" x2="627.50" y2="468.60" stroke="#000" stroke-width="0.9" />
<line x1="648.50" y1="465.50" x2="648.50" y2="468.60" stroke="#000" stroke-width="0.9" />
<line x1="627.50" y1="416.83" x2="648.50" y2="408.63" stroke="#000" stroke-width="0.55" />
<circle cx="627.50" cy="416.83" r="1.15" fill="#000" />
<circle cx="648.50" cy="408.63" r="1.15" fill="#000" />
<line x1="627.50" y1="416.83" x2="648.50" y2="412.97" stroke="#000" stroke-width="0.55" />
<circle cx="627.50" cy="416.83" r="1.15" fill="#000" />
<circle cx="648.50" cy="412.97" r="1.15" fill="#000" />
<line x1="627.50" y1="416.83" x2="648.50" y2="413.94" stroke="#000" stroke-width="0.55" />
<circle cx="627.50" cy="416.83" r="1.15" fill="#000" />
<circle cx="648.50" cy="413.94" r="1.15" fill="#000" />
<line x1="627.50" y1="416.83" x2="648.50" y2="426.49" stroke="#000" stroke-width="0.55" />
<circle cx="627.50" cy="416.83" r="1.15" fill="#000" />
<circle cx="648.50" cy="426.49" r="1.15" fill="#000" />
<text x="638.30" y="383.30" font-size="7.4" fill="#4d9cf5" text-anchor="middle" font-weight="bold" textLength="16.80" lengthAdjust="spacingAndGlyphs">Ntrk2</text>
<text x="593.07" y="428.40" font-size="6.3" fill="#000" text-anchor="middle" font-weight="bold" textLength="81.00" lengthAdjust="spacingAndGlyphs" transform="rotate(-90 593.07 428.40)">Normalized eIPSC amplitude</text>
<text x="630.60" y="474.30" font-size="6.3" fill="#000" text-anchor="end" font-weight="bold" textLength="31.20" lengthAdjust="spacingAndGlyphs" transform="rotate(-45 630.60 474.30)">Before HFS</text>
<text x="651.60" y="474.30" font-size="6.3" fill="#000" text-anchor="end" font-weight="bold" textLength="27.20" lengthAdjust="spacingAndGlyphs" transform="rotate(-45 651.60 474.30)">After HFS</text>
<line x1="1.00" y1="533.20" x2="173.80" y2="533.20" stroke="#2a2a2a" stroke-width="1.3" />
<line x1="248.90" y1="533.20" x2="422.00" y2="533.20" stroke="#2a2a2a" stroke-width="1.3" />
<text x="184.20" y="537.20" font-size="14.2" fill="#000" textLength="55.60" lengthAdjust="spacingAndGlyphs" stroke="#000" stroke-width="0.35">Scramble</text>
<text x="1.20" y="594.90" font-size="14" fill="#000" textLength="6.02" lengthAdjust="spacingAndGlyphs" stroke="#000" stroke-width="0.4">J</text>
<text x="256.60" y="595.80" font-size="14" fill="#000" textLength="8.03" lengthAdjust="spacingAndGlyphs" stroke="#000" stroke-width="0.4">K</text>
<text x="348.80" y="594.60" font-size="14" fill="#000" textLength="6.69" lengthAdjust="spacingAndGlyphs" stroke="#000" stroke-width="0.4">L</text>
<text x="437.60" y="553.90" font-size="14" fill="#000" textLength="10.03" lengthAdjust="spacingAndGlyphs" stroke="#000" stroke-width="0.4">M</text>
<line x1="39.50" y1="602.00" x2="39.50" y2="676.00" stroke="#000" stroke-width="1.0" />
<line x1="36.40" y1="675.50" x2="39.50" y2="675.50" stroke="#000" stroke-width="0.9" />
<text x="35.60" y="677.39" font-size="5.559" fill="#000" text-anchor="end" font-weight="bold" textLength="2.75" lengthAdjust="spacingAndGlyphs">0</text>
<line x1="36.40" y1="660.50" x2="39.50" y2="660.50" stroke="#000" stroke-width="0.9" />
<text x="35.60" y="662.89" font-size="5.559" fill="#000" text-anchor="end" font-weight="bold" textLength="8.25" lengthAdjust="spacingAndGlyphs">200</text>
<line x1="36.40" y1="646.50" x2="39.50" y2="646.50" stroke="#000" stroke-width="0.9" />
<text x="35.60" y="648.39" font-size="5.559" fill="#000" text-anchor="end" font-weight="bold" textLength="8.25" lengthAdjust="spacingAndGlyphs">400</text>
<line x1="36.40" y1="631.50" x2="39.50" y2="631.50" stroke="#000" stroke-width="0.9" />
<text x="35.60" y="633.89" font-size="5.559" fill="#000" text-anchor="end" font-weight="bold" textLength="8.25" lengthAdjust="spacingAndGlyphs">600</text>
<line x1="36.40" y1="617.50" x2="39.50" y2="617.50" stroke="#000" stroke-width="0.9" />
<text x="35.60" y="619.39" font-size="5.559" fill="#000" text-anchor="end" font-weight="bold" textLength="8.25" lengthAdjust="spacingAndGlyphs">800</text>
<line x1="36.40" y1="602.50" x2="39.50" y2="602.50" stroke="#000" stroke-width="0.9" />
<text x="35.60" y="604.89" font-size="5.559" fill="#000" text-anchor="end" font-weight="bold" textLength="11.00" lengthAdjust="spacingAndGlyphs">1000</text>
<line x1="37.39" y1="668.50" x2="39.50" y2="668.50" stroke="#000" stroke-width="0.85" />
<line x1="37.39" y1="653.50" x2="39.50" y2="653.50" stroke="#000" stroke-width="0.85" />
<line x1="37.39" y1="639.50" x2="39.50" y2="639.50" stroke="#000" stroke-width="0.85" />
<line x1="37.39" y1="624.50" x2="39.50" y2="624.50" stroke="#000" stroke-width="0.85" />
<line x1="37.39" y1="610.50" x2="39.50" y2="610.50" stroke="#000" stroke-width="0.85" />
<line x1="39.00" y1="675.50" x2="240.70" y2="675.50" stroke="#000" stroke-width="1.0" />
<line x1="39.50" y1="675.50" x2="39.50" y2="678.60" stroke="#000" stroke-width="0.9" />
<text x="39.80" y="684.80" font-size="5.45" fill="#000" text-anchor="middle" font-weight="bold" textLength="7.01" lengthAdjust="spacingAndGlyphs">-10</text>
<text x="77.80" y="684.80" font-size="5.45" fill="#000" text-anchor="middle" font-weight="bold" textLength="2.70" lengthAdjust="spacingAndGlyphs">0</text>
<text x="82.70" y="684.80" font-size="5.45" fill="#000" text-anchor="middle" font-weight="bold" textLength="2.70" lengthAdjust="spacingAndGlyphs">0</text>
<line x1="114.50" y1="675.50" x2="114.50" y2="678.60" stroke="#000" stroke-width="0.9" />
<text x="114.20" y="684.80" font-size="5.45" fill="#000" text-anchor="middle" font-weight="bold" textLength="5.39" lengthAdjust="spacingAndGlyphs">10</text>
<line x1="145.50" y1="675.50" x2="145.50" y2="678.60" stroke="#000" stroke-width="0.9" />
<text x="145.70" y="684.80" font-size="5.45" fill="#000" text-anchor="middle" font-weight="bold" textLength="5.39" lengthAdjust="spacingAndGlyphs">20</text>
<line x1="177.50" y1="675.50" x2="177.50" y2="678.60" stroke="#000" stroke-width="0.9" />
<text x="177.20" y="684.80" font-size="5.45" fill="#000" text-anchor="middle" font-weight="bold" textLength="5.39" lengthAdjust="spacingAndGlyphs">30</text>
<line x1="208.50" y1="675.50" x2="208.50" y2="678.60" stroke="#000" stroke-width="0.9" />
<text x="208.70" y="684.80" font-size="5.45" fill="#000" text-anchor="middle" font-weight="bold" textLength="5.39" lengthAdjust="spacingAndGlyphs">40</text>
<line x1="240.50" y1="675.50" x2="240.50" y2="678.60" stroke="#000" stroke-width="0.9" />
<text x="240.20" y="684.80" font-size="5.45" fill="#000" text-anchor="middle" font-weight="bold" textLength="5.39" lengthAdjust="spacingAndGlyphs">50</text>
<line x1="58.50" y1="675.50" x2="58.50" y2="677.61" stroke="#000" stroke-width="0.85" />
<line x1="98.50" y1="675.50" x2="98.50" y2="677.61" stroke="#000" stroke-width="0.85" />
<line x1="130.50" y1="675.50" x2="130.50" y2="677.61" stroke="#000" stroke-width="0.85" />
<line x1="161.50" y1="675.50" x2="161.50" y2="677.61" stroke="#000" stroke-width="0.85" />
<line x1="193.50" y1="675.50" x2="193.50" y2="677.61" stroke="#000" stroke-width="0.85" />
<line x1="224.50" y1="675.50" x2="224.50" y2="677.61" stroke="#000" stroke-width="0.85" />
<rect x="78.60" y="674.40" width="3.30" height="2.00" fill="#fff" />
<line x1="76.25" y1="677.15" x2="79.35" y2="673.65" stroke="#000" stroke-width="1.0" />
<line x1="81.15" y1="677.15" x2="84.25" y2="673.65" stroke="#000" stroke-width="1.0" />
<text x="139.10" y="693.50" font-size="5.9" fill="#000" text-anchor="middle" font-weight="bold" textLength="36.80" lengthAdjust="spacingAndGlyphs">Time( min)</text>
<text x="15.39" y="638.80" font-size="5.8" fill="#000" text-anchor="middle" font-weight="bold" textLength="43.60" lengthAdjust="spacingAndGlyphs" transform="rotate(-90 15.39 638.80)">eIPSC amplitude</text>
<text x="21.99" y="638.80" font-size="5.8" fill="#000" text-anchor="middle" font-weight="bold" textLength="10.40" lengthAdjust="spacingAndGlyphs" transform="rotate(-90 21.99 638.80)">(pA)</text>
<g fill="#a6a6a8"><circle cx="39.8" cy="648.1" r="1.4"/><circle cx="40.4" cy="659.8" r="1.4"/><circle cx="41.0" cy="663.4" r="1.4"/><circle cx="41.6" cy="667.2" r="1.4"/><circle cx="42.2" cy="665.1" r="1.4"/><circle cx="42.8" cy="664.6" r="1.4"/><circle cx="43.4" cy="661.7" r="1.4"/><circle cx="44.0" cy="658.5" r="1.4"/><circle cx="44.5" cy="654.3" r="1.4"/><circle cx="45.1" cy="659.4" r="1.4"/><circle cx="45.7" cy="653.6" r="1.4"/><circle cx="46.3" cy="657.7" r="1.4"/><circle cx="46.9" cy="659.8" r="1.4"/><circle cx="47.5" cy="661.7" r="1.4"/><circle cx="48.1" cy="666.4" r="1.4"/><circle cx="48.7" cy="660.6" r="1.4"/><circle cx="49.3" cy="661.0" r="1.4"/><circle cx="49.9" cy="657.8" r="1.4"/><circle cx="50.5" cy="657.6" r="1.4"/><circle cx="51.1" cy="667.5" r="1.4"/><circle cx="51.7" cy="663.9" r="1.4"/><circle cx="52.3" cy="666.3" r="1.4"/><circle cx="52.9" cy="652.8" r="1.4"/><circle cx="53.5" cy="659.7" r="1.4"/><circle cx="54.0" cy="658.1" r="1.4"/><circle cx="54.6" cy="664.4" r="1.4"/><circle cx="55.2" cy="666.6" r="1.4"/><circle cx="55.8" cy="662.1" r="1.4"/><circle cx="56.4" cy="658.9" r="1.4"/><circle cx="57.0" cy="655.2" r="1.4"/><circle cx="57.6" cy="667.6" r="1.4"/><circle cx="58.2" cy="655.8" r="1.4"/><circle cx="58.8" cy="663.1" r="1.4"/><circle cx="59.4" cy="660.9" r="1.4"/><circle cx="60.0" cy="659.5" r="1.4"/><circle cx="60.6" cy="660.0" r="1.4"/><circle cx="61.2" cy="654.2" r="1.4"/><circle cx="61.8" cy="651.5" r="1.4"/><circle cx="62.4" cy="654.7" r="1.4"/><circle cx="63.0" cy="660.1" r="1.4"/><circle cx="63.5" cy="653.9" r="1.4"/><circle cx="64.1" cy="654.0" r="1.4"/><circle cx="64.7" cy="650.8" r="1.4"/><circle cx="65.3" cy="654.4" r="1.4"/><circle cx="65.9" cy="666.1" r="1.4"/><circle cx="66.5" cy="660.6" r="1.4"/><circle cx="67.1" cy="658.2" r="1.4"/><circle cx="67.7" cy="649.7" r="1.4"/><circle cx="68.3" cy="656.2" r="1.4"/><circle cx="68.9" cy="649.5" r="1.4"/><circle cx="69.5" cy="653.2" r="1.4"/><circle cx="70.1" cy="662.4" r="1.4"/><circle cx="70.7" cy="654.5" r="1.4"/><circle cx="71.3" cy="651.1" r="1.4"/><circle cx="71.9" cy="651.9" r="1.4"/><circle cx="72.5" cy="663.7" r="1.4"/><circle cx="73.0" cy="651.5" r="1.4"/><circle cx="73.6" cy="657.7" r="1.4"/><circle cx="74.2" cy="667.2" r="1.4"/><circle cx="74.8" cy="657.3" r="1.4"/><circle cx="75.4" cy="666.0" r="1.4"/><circle cx="76.0" cy="661.5" r="1.4"/><circle cx="76.6" cy="644.2" r="1.4"/><circle cx="77.2" cy="646.5" r="1.4"/><circle cx="73.2" cy="631.9" r="1.4"/><circle cx="83.6" cy="645.5" r="1.4"/><circle cx="84.1" cy="631.2" r="1.4"/><circle cx="84.6" cy="646.0" r="1.4"/><circle cx="85.1" cy="658.6" r="1.4"/><circle cx="85.6" cy="640.2" r="1.4"/><circle cx="86.1" cy="655.1" r="1.4"/><circle cx="86.6" cy="648.0" r="1.4"/><circle cx="87.1" cy="656.8" r="1.4"/><circle cx="87.6" cy="638.2" r="1.4"/><circle cx="88.0" cy="649.0" r="1.4"/><circle cx="88.5" cy="645.9" r="1.4"/><circle cx="89.0" cy="643.5" r="1.4"/><circle cx="89.5" cy="653.3" r="1.4"/><circle cx="90.0" cy="645.4" r="1.4"/><circle cx="90.5" cy="624.7" r="1.4"/><circle cx="91.0" cy="656.2" r="1.4"/><circle cx="91.5" cy="645.3" r="1.4"/><circle cx="91.9" cy="641.6" r="1.4"/><circle cx="92.4" cy="651.8" r="1.4"/><circle cx="92.9" cy="646.9" r="1.4"/><circle cx="93.4" cy="662.9" r="1.4"/><circle cx="93.9" cy="650.3" r="1.4"/><circle cx="94.4" cy="645.5" r="1.4"/><circle cx="94.9" cy="634.9" r="1.4"/><circle cx="95.4" cy="636.3" r="1.4"/><circle cx="95.9" cy="651.0" r="1.4"/><circle cx="96.3" cy="656.0" r="1.4"/><circle cx="96.8" cy="627.2" r="1.4"/><circle cx="97.3" cy="636.1" r="1.4"/><circle cx="97.8" cy="663.2" r="1.4"/><circle cx="98.3" cy="647.8" r="1.4"/><circle cx="98.8" cy="653.1" r="1.4"/><circle cx="99.3" cy="650.0" r="1.4"/><circle cx="99.8" cy="660.7" r="1.4"/><circle cx="100.2" cy="647.9" r="1.4"/><circle cx="100.7" cy="648.6" r="1.4"/><circle cx="101.2" cy="645.7" r="1.4"/><circle cx="101.7" cy="633.1" r="1.4"/><circle cx="102.2" cy="640.9" r="1.4"/><circle cx="102.7" cy="654.8" r="1.4"/><circle cx="103.2" cy="659.7" r="1.4"/><circle cx="103.7" cy="647.7" r="1.4"/><circle cx="104.2" cy="631.2" r="1.4"/><circle cx="104.6" cy="633.0" r="1.4"/><circle cx="105.1" cy="647.8" r="1.4"/><circle cx="105.6" cy="630.5" r="1.4"/><circle cx="106.1" cy="637.4" r="1.4"/><circle cx="106.6" cy="647.4" r="1.4"/><circle cx="107.1" cy="637.1" r="1.4"/><circle cx="107.6" cy="641.9" r="1.4"/><circle cx="108.1" cy="651.9" r="1.4"/><circle cx="108.5" cy="645.0" r="1.4"/><circle cx="109.0" cy="639.0" r="1.4"/><circle cx="109.5" cy="627.5" r="1.4"/><circle cx="110.0" cy="650.4" r="1.4"/><circle cx="110.5" cy="637.7" r="1.4"/><circle cx="111.0" cy="639.7" r="1.4"/><circle cx="111.5" cy="640.2" r="1.4"/><circle cx="112.0" cy="651.5" r="1.4"/><circle cx="112.5" cy="627.1" r="1.4"/><circle cx="112.9" cy="626.5" r="1.4"/><circle cx="113.4" cy="623.4" r="1.4"/><circle cx="113.9" cy="634.3" r="1.4"/><circle cx="114.4" cy="627.1" r="1.4"/><circle cx="114.9" cy="634.9" r="1.4"/><circle cx="115.4" cy="631.1" r="1.4"/><circle cx="115.9" cy="642.2" r="1.4"/><circle cx="116.4" cy="637.5" r="1.4"/><circle cx="116.8" cy="642.1" r="1.4"/><circle cx="117.3" cy="648.2" r="1.4"/><circle cx="117.8" cy="643.0" r="1.4"/><circle cx="118.3" cy="648.8" r="1.4"/><circle cx="118.8" cy="648.7" r="1.4"/><circle cx="119.3" cy="642.7" r="1.4"/><circle cx="119.8" cy="644.4" r="1.4"/><circle cx="120.3" cy="622.1" r="1.4"/><circle cx="120.8" cy="624.5" r="1.4"/><circle cx="121.2" cy="630.3" r="1.4"/><circle cx="121.7" cy="632.7" r="1.4"/><circle cx="122.2" cy="646.6" r="1.4"/><circle cx="122.7" cy="637.0" r="1.4"/><circle cx="123.2" cy="651.4" r="1.4"/><circle cx="123.7" cy="644.6" r="1.4"/><circle cx="124.2" cy="643.4" r="1.4"/><circle cx="124.7" cy="642.4" r="1.4"/><circle cx="125.1" cy="632.1" r="1.4"/><circle cx="125.6" cy="646.0" r="1.4"/><circle cx="126.1" cy="619.1" r="1.4"/><circle cx="126.6" cy="643.6" r="1.4"/><circle cx="127.1" cy="632.2" r="1.4"/><circle cx="127.6" cy="652.6" r="1.4"/><circle cx="128.1" cy="631.7" r="1.4"/><circle cx="128.6" cy="649.6" r="1.4"/><circle cx="129.1" cy="637.7" r="1.4"/><circle cx="129.5" cy="639.4" r="1.4"/><circle cx="130.0" cy="632.4" r="1.4"/><circle cx="130.5" cy="634.2" r="1.4"/><circle cx="131.0" cy="636.1" r="1.4"/><circle cx="131.5" cy="640.6" r="1.4"/><circle cx="132.0" cy="622.9" r="1.4"/><circle cx="132.5" cy="643.2" r="1.4"/><circle cx="133.0" cy="639.2" r="1.4"/><circle cx="133.4" cy="643.3" r="1.4"/><circle cx="133.9" cy="638.2" r="1.4"/><circle cx="134.4" cy="647.4" r="1.4"/><circle cx="134.9" cy="642.8" r="1.4"/><circle cx="135.4" cy="635.1" r="1.4"/><circle cx="135.9" cy="644.2" r="1.4"/><circle cx="136.4" cy="635.4" r="1.4"/><circle cx="136.9" cy="644.2" r="1.4"/><circle cx="137.4" cy="627.4" r="1.4"/><circle cx="137.8" cy="640.4" r="1.4"/><circle cx="138.3" cy="624.6" r="1.4"/><circle cx="138.8" cy="635.1" r="1.4"/><circle cx="139.3" cy="640.4" r="1.4"/><circle cx="139.8" cy="631.3" r="1.4"/><circle cx="140.3" cy="629.5" r="1.4"/><circle cx="140.8" cy="626.5" r="1.4"/><circle cx="141.3" cy="627.6" r="1.4"/><circle cx="141.7" cy="631.8" r="1.4"/><circle cx="142.2" cy="649.1" r="1.4"/><circle cx="142.7" cy="631.5" r="1.4"/><circle cx="143.2" cy="640.0" r="1.4"/><circle cx="143.7" cy="635.9" r="1.4"/><circle cx="144.2" cy="628.7" r="1.4"/><circle cx="144.7" cy="645.3" r="1.4"/><circle cx="145.2" cy="628.1" r="1.4"/><circle cx="145.7" cy="619.2" r="1.4"/><circle cx="146.1" cy="634.6" r="1.4"/><circle cx="146.6" cy="641.9" r="1.4"/><circle cx="147.1" cy="627.8" r="1.4"/><circle cx="147.6" cy="637.8" r="1.4"/><circle cx="148.1" cy="630.5" r="1.4"/><circle cx="148.6" cy="628.8" r="1.4"/><circle cx="149.1" cy="652.0" r="1.4"/><circle cx="149.6" cy="636.6" r="1.4"/><circle cx="150.0" cy="652.1" r="1.4"/><circle cx="150.5" cy="645.2" r="1.4"/><circle cx="151.0" cy="634.2" r="1.4"/><circle cx="151.5" cy="649.4" r="1.4"/><circle cx="152.0" cy="645.4" r="1.4"/><circle cx="152.5" cy="643.2" r="1.4"/><circle cx="153.0" cy="636.7" r="1.4"/><circle cx="153.5" cy="636.4" r="1.4"/><circle cx="154.0" cy="635.6" r="1.4"/><circle cx="154.4" cy="643.6" r="1.4"/><circle cx="154.9" cy="645.7" r="1.4"/><circle cx="155.4" cy="635.9" r="1.4"/><circle cx="155.9" cy="646.7" r="1.4"/><circle cx="156.4" cy="646.2" r="1.4"/><circle cx="156.9" cy="633.5" r="1.4"/><circle cx="157.4" cy="646.1" r="1.4"/><circle cx="157.9" cy="647.0" r="1.4"/><circle cx="158.3" cy="631.2" r="1.4"/><circle cx="158.8" cy="640.6" r="1.4"/><circle cx="159.3" cy="657.3" r="1.4"/><circle cx="159.8" cy="647.3" r="1.4"/><circle cx="160.3" cy="628.4" r="1.4"/><circle cx="160.8" cy="622.7" r="1.4"/><circle cx="161.3" cy="646.3" r="1.4"/><circle cx="161.8" cy="639.9" r="1.4"/><circle cx="162.3" cy="640.4" r="1.4"/><circle cx="162.7" cy="644.3" r="1.4"/><circle cx="163.2" cy="660.6" r="1.4"/><circle cx="163.7" cy="640.8" r="1.4"/><circle cx="164.2" cy="646.9" r="1.4"/><circle cx="164.7" cy="651.4" r="1.4"/><circle cx="165.2" cy="662.3" r="1.4"/><circle cx="165.7" cy="655.9" r="1.4"/><circle cx="166.2" cy="652.9" r="1.4"/><circle cx="166.6" cy="654.1" r="1.4"/><circle cx="167.1" cy="650.9" r="1.4"/><circle cx="167.6" cy="655.0" r="1.4"/><circle cx="168.1" cy="645.9" r="1.4"/><circle cx="168.6" cy="648.3" r="1.4"/><circle cx="169.1" cy="660.0" r="1.4"/><circle cx="169.6" cy="656.4" r="1.4"/><circle cx="170.1" cy="649.7" r="1.4"/><circle cx="170.6" cy="656.1" r="1.4"/><circle cx="171.0" cy="643.3" r="1.4"/><circle cx="171.5" cy="656.0" r="1.4"/><circle cx="172.0" cy="650.8" r="1.4"/><circle cx="172.5" cy="648.5" r="1.4"/><circle cx="173.0" cy="659.9" r="1.4"/><circle cx="173.5" cy="644.3" r="1.4"/><circle cx="174.0" cy="653.8" r="1.4"/><circle cx="174.5" cy="657.1" r="1.4"/><circle cx="174.9" cy="657.0" r="1.4"/><circle cx="175.4" cy="663.6" r="1.4"/><circle cx="175.9" cy="661.4" r="1.4"/><circle cx="176.4" cy="642.7" r="1.4"/><circle cx="176.9" cy="653.3" r="1.4"/><circle cx="177.4" cy="654.3" r="1.4"/><circle cx="177.9" cy="651.2" r="1.4"/><circle cx="178.4" cy="648.7" r="1.4"/><circle cx="178.9" cy="657.7" r="1.4"/><circle cx="179.3" cy="653.9" r="1.4"/><circle cx="179.8" cy="650.7" r="1.4"/><circle cx="180.3" cy="645.9" r="1.4"/><circle cx="180.8" cy="650.8" r="1.4"/><circle cx="181.3" cy="641.6" r="1.4"/><circle cx="181.8" cy="653.9" r="1.4"/><circle cx="182.3" cy="654.7" r="1.4"/><circle cx="182.8" cy="661.6" r="1.4"/><circle cx="183.2" cy="652.8" r="1.4"/><circle cx="183.7" cy="646.7" r="1.4"/><circle cx="184.2" cy="652.3" r="1.4"/><circle cx="184.7" cy="650.3" r="1.4"/><circle cx="185.2" cy="655.3" r="1.4"/><circle cx="185.7" cy="650.7" r="1.4"/><circle cx="186.2" cy="648.1" r="1.4"/><circle cx="186.7" cy="643.8" r="1.4"/><circle cx="187.2" cy="633.0" r="1.4"/><circle cx="187.6" cy="636.1" r="1.4"/><circle cx="188.1" cy="631.4" r="1.4"/><circle cx="188.6" cy="627.8" r="1.4"/><circle cx="189.1" cy="639.5" r="1.4"/><circle cx="189.6" cy="623.6" r="1.4"/><circle cx="190.1" cy="633.3" r="1.4"/><circle cx="190.6" cy="645.7" r="1.4"/><circle cx="191.1" cy="639.2" r="1.4"/><circle cx="191.5" cy="634.5" r="1.4"/><circle cx="192.0" cy="647.7" r="1.4"/><circle cx="192.5" cy="634.2" r="1.4"/><circle cx="193.0" cy="626.0" r="1.4"/><circle cx="193.5" cy="644.7" r="1.4"/><circle cx="194.0" cy="632.9" r="1.4"/><circle cx="194.5" cy="631.4" r="1.4"/><circle cx="195.0" cy="640.7" r="1.4"/><circle cx="195.5" cy="631.5" r="1.4"/><circle cx="195.9" cy="633.8" r="1.4"/><circle cx="196.4" cy="630.4" r="1.4"/><circle cx="196.9" cy="644.7" r="1.4"/><circle cx="197.4" cy="629.1" r="1.4"/><circle cx="197.9" cy="636.4" r="1.4"/><circle cx="198.4" cy="641.5" r="1.4"/><circle cx="198.9" cy="653.7" r="1.4"/><circle cx="199.4" cy="635.6" r="1.4"/><circle cx="199.8" cy="637.2" r="1.4"/><circle cx="200.3" cy="644.8" r="1.4"/><circle cx="200.8" cy="620.3" r="1.4"/><circle cx="201.3" cy="622.5" r="1.4"/><circle cx="201.8" cy="630.1" r="1.4"/><circle cx="202.3" cy="631.6" r="1.4"/><circle cx="202.8" cy="629.3" r="1.4"/><circle cx="203.3" cy="647.2" r="1.4"/><circle cx="203.8" cy="621.0" r="1.4"/><circle cx="204.2" cy="636.8" r="1.4"/><circle cx="204.7" cy="640.6" r="1.4"/><circle cx="205.2" cy="633.9" r="1.4"/><circle cx="205.7" cy="658.8" r="1.4"/><circle cx="206.2" cy="645.9" r="1.4"/><circle cx="206.7" cy="644.5" r="1.4"/><circle cx="207.2" cy="648.1" r="1.4"/><circle cx="207.7" cy="628.6" r="1.4"/><circle cx="208.1" cy="619.4" r="1.4"/><circle cx="208.6" cy="633.7" r="1.4"/><circle cx="209.1" cy="636.8" r="1.4"/><circle cx="209.6" cy="630.9" r="1.4"/><circle cx="210.1" cy="638.5" r="1.4"/><circle cx="210.6" cy="632.7" r="1.4"/><circle cx="211.1" cy="630.2" r="1.4"/><circle cx="211.6" cy="636.0" r="1.4"/><circle cx="212.1" cy="637.6" r="1.4"/><circle cx="212.5" cy="633.3" r="1.4"/><circle cx="213.0" cy="633.4" r="1.4"/><circle cx="213.5" cy="627.8" r="1.4"/><circle cx="214.0" cy="647.6" r="1.4"/><circle cx="214.5" cy="644.1" r="1.4"/><circle cx="215.0" cy="638.3" r="1.4"/><circle cx="215.5" cy="629.5" r="1.4"/><circle cx="216.0" cy="645.7" r="1.4"/><circle cx="216.4" cy="623.0" r="1.4"/><circle cx="216.9" cy="620.9" r="1.4"/><circle cx="217.4" cy="640.6" r="1.4"/><circle cx="217.9" cy="623.8" r="1.4"/><circle cx="218.4" cy="652.9" r="1.4"/><circle cx="218.9" cy="634.9" r="1.4"/><circle cx="219.4" cy="648.6" r="1.4"/><circle cx="219.9" cy="624.2" r="1.4"/><circle cx="220.4" cy="626.3" r="1.4"/><circle cx="220.8" cy="629.4" r="1.4"/><circle cx="221.3" cy="639.3" r="1.4"/><circle cx="221.8" cy="644.3" r="1.4"/><circle cx="222.3" cy="630.3" r="1.4"/><circle cx="222.8" cy="638.7" r="1.4"/><circle cx="223.3" cy="628.0" r="1.4"/><circle cx="223.8" cy="648.6" r="1.4"/><circle cx="224.3" cy="630.3" r="1.4"/><circle cx="224.7" cy="629.5" r="1.4"/><circle cx="225.2" cy="654.7" r="1.4"/><circle cx="225.7" cy="645.7" r="1.4"/><circle cx="226.2" cy="640.6" r="1.4"/><circle cx="226.7" cy="639.6" r="1.4"/><circle cx="227.2" cy="649.8" r="1.4"/><circle cx="227.7" cy="634.1" r="1.4"/><circle cx="228.2" cy="644.5" r="1.4"/><circle cx="228.7" cy="634.9" r="1.4"/><circle cx="229.1" cy="650.9" r="1.4"/><circle cx="229.6" cy="645.0" r="1.4"/><circle cx="230.1" cy="628.0" r="1.4"/><circle cx="230.6" cy="649.8" r="1.4"/><circle cx="231.1" cy="634.6" r="1.4"/><circle cx="231.6" cy="621.1" r="1.4"/><circle cx="232.1" cy="627.0" r="1.4"/><circle cx="232.6" cy="646.3" r="1.4"/><circle cx="233.0" cy="639.4" r="1.4"/><circle cx="233.5" cy="625.8" r="1.4"/><circle cx="234.0" cy="625.6" r="1.4"/><circle cx="234.5" cy="637.2" r="1.4"/><circle cx="235.0" cy="628.6" r="1.4"/><circle cx="235.5" cy="659.3" r="1.4"/><circle cx="236.0" cy="633.5" r="1.4"/><circle cx="236.5" cy="632.9" r="1.4"/><circle cx="237.0" cy="637.5" r="1.4"/><circle cx="237.4" cy="633.2" r="1.4"/><circle cx="237.9" cy="624.6" r="1.4"/><circle cx="238.4" cy="625.8" r="1.4"/><circle cx="238.9" cy="640.0" r="1.4"/><circle cx="239.4" cy="627.2" r="1.4"/><circle cx="219.4" cy="602.9" r="1.4"/><circle cx="189.8" cy="613.0" r="1.4"/><circle cx="239.6" cy="661.6" r="1.4"/></g>
<line x1="39.80" y1="654.50" x2="240.20" y2="654.50" stroke="#333" stroke-width="0.55" stroke-dasharray="1.8 0.9"/>
<line x1="80.10" y1="666.50" x2="80.10" y2="658.80" stroke="#ff2a2a" stroke-width="0.8" />
<path d="M80.10 656.30 L77.95 660.30 L82.25 660.30 Z" fill="#ff2020"/>
<text x="80.10" y="671.80" font-size="5.7" fill="#ff2020" text-anchor="middle" font-weight="bold" stroke="#ff2020" stroke-width="0.15">HFS</text>
<text x="110.70" y="591.80" font-size="7.0" fill="#a8a8a8" font-weight="bold" textLength="74.40" lengthAdjust="spacingAndGlyphs">mir30shRNA-Scramble</text>
<path d="M189.80 572.40 L192.70 572.40 L193.10 568.70 L193.40 598.50 L193.90 573.00 L194.10 572.70 L194.14 572.45 L194.22 572.78 L194.32 573.60 L194.45 574.94 L194.61 576.67 L194.78 578.61 L194.97 580.52 L195.17 582.25 L195.40 583.69 L195.63 584.77 L195.89 585.51 L196.15 585.94 L196.43 586.10 L196.73 586.05 L197.03 585.83 L197.35 585.51 L197.68 585.10 L198.03 584.63 L198.38 584.14 L198.75 583.62 L199.12 583.11 L199.51 582.59 L199.91 582.07 L200.32 581.57 L200.74 581.08 L201.17 580.61 L201.61 580.15 L202.06 579.70 L202.52 579.27 L202.99 578.86 L203.47 578.47 L203.96 578.09 L204.45 577.73 L204.96 577.39 L205.48 577.06 L206.00 576.75 L206.53 576.45 L207.08 576.17 L207.63 575.91 L208.19 575.66 L208.75 575.43 L209.33 575.21 L209.91 575.00 L210.51 574.80 L211.11 574.62 L211.72 574.45 L212.33 574.29 L212.96 574.14 L213.59 574.00 L214.23 573.87 L214.88 573.75 L215.53 573.64 L216.20 573.54 L216.87 573.44 L217.55 573.35 L218.23 573.27 L218.92 573.19 L219.63 573.12 L220.33 573.06 L221.05 573.00 L221.77 572.95 L222.50 572.90 L223.24 572.85 L223.98 572.81 L224.73 572.77 L225.49 572.73 L226.25 572.70 L227.02 572.67 L227.80 572.65 L228.59 572.62 L229.38 572.60 L230.18 572.58 L230.98 572.56 L231.79 572.55 L232.61 572.53 L233.44 572.52 L234.27 572.51 L235.10 572.49 L235.95 572.48 L236.80 572.48" fill="none" stroke="#3a3a3a" stroke-width="0.42" stroke-linejoin="round" opacity="0.85"/>
<path d="M189.80 572.40 L192.70 572.40 L193.10 568.70 L193.40 598.50 L193.90 573.00 L194.10 572.70 L194.29 572.47 L194.37 573.00 L194.47 574.31 L194.60 576.45 L194.76 579.23 L194.93 582.33 L195.12 585.42 L195.32 588.22 L195.55 590.56 L195.78 592.36 L196.04 593.60 L196.30 594.35 L196.58 594.67 L196.88 594.65 L197.18 594.37 L197.50 593.90 L197.83 593.30 L198.18 592.60 L198.53 591.85 L198.90 591.07 L199.27 590.27 L199.66 589.47 L200.06 588.67 L200.47 587.89 L200.89 587.12 L201.32 586.37 L201.76 585.65 L202.21 584.94 L202.67 584.26 L203.14 583.60 L203.62 582.96 L204.11 582.35 L204.60 581.77 L205.11 581.21 L205.63 580.67 L206.15 580.16 L206.68 579.67 L207.23 579.21 L207.78 578.77 L208.34 578.35 L208.90 577.95 L209.48 577.57 L210.06 577.22 L210.66 576.88 L211.26 576.57 L211.87 576.27 L212.48 575.99 L213.11 575.73 L213.74 575.48 L214.38 575.25 L215.03 575.03 L215.68 574.83 L216.35 574.64 L217.02 574.46 L217.70 574.30 L218.38 574.15 L219.07 574.01 L219.78 573.88 L220.48 573.75 L221.20 573.64 L221.92 573.54 L222.65 573.44 L223.39 573.35 L224.13 573.27 L224.88 573.19 L225.64 573.12 L226.40 573.06 L227.17 573.00 L227.95 572.94 L228.74 572.90 L229.53 572.85 L230.33 572.81 L231.13 572.77 L231.94 572.74 L232.76 572.70 L233.59 572.67 L234.42 572.65 L235.25 572.62 L236.10 572.60 L236.95 572.58" fill="none" stroke="#f05050" stroke-width="0.42" stroke-linejoin="round" opacity="0.85"/>
<line x1="244.00" y1="570.70" x2="247.00" y2="570.70" stroke="#555" stroke-width="0.4" />
<text x="248.60" y="571.60" font-size="2.8" fill="#222" textLength="12.90" lengthAdjust="spacingAndGlyphs">Before HFS</text>
<line x1="244.00" y1="575.60" x2="247.00" y2="575.60" stroke="#f7a0a0" stroke-width="0.4" />
<text x="248.60" y="576.50" font-size="2.8" fill="#ff2828" textLength="11.20" lengthAdjust="spacingAndGlyphs">After HFS</text>
<path d="M229.00 587.30 L229.00 594.70 L237.00 594.70" fill="none" stroke="#222" stroke-width="0.55"/>
<text x="233.40" y="597.90" font-size="2.4" fill="#333" text-anchor="middle" font-weight="bold">10 ms</text>
<text x="228.12" y="591.00" font-size="2.0" fill="#333" text-anchor="middle" font-weight="bold" transform="rotate(-90 228.12 591.00)">100 pA</text>
<line x1="294.50" y1="605.00" x2="294.50" y2="679.00" stroke="#000" stroke-width="1.0" />
<line x1="291.40" y1="678.50" x2="294.50" y2="678.50" stroke="#000" stroke-width="0.9" />
<text x="290.60" y="680.27" font-size="5.777" fill="#000" text-anchor="end" font-weight="bold" textLength="2.86" lengthAdjust="spacingAndGlyphs">0</text>
<line x1="291.40" y1="660.50" x2="294.50" y2="660.50" stroke="#000" stroke-width="0.9" />
<text x="290.60" y="662.09" font-size="5.777" fill="#000" text-anchor="end" font-weight="bold" textLength="8.58" lengthAdjust="spacingAndGlyphs">300</text>
<line x1="291.40" y1="641.50" x2="294.50" y2="641.50" stroke="#000" stroke-width="0.9" />
<text x="290.60" y="643.92" font-size="5.777" fill="#000" text-anchor="end" font-weight="bold" textLength="8.58" lengthAdjust="spacingAndGlyphs">600</text>
<line x1="291.40" y1="623.50" x2="294.50" y2="623.50" stroke="#000" stroke-width="0.9" />
<text x="290.60" y="625.74" font-size="5.777" fill="#000" text-anchor="end" font-weight="bold" textLength="8.58" lengthAdjust="spacingAndGlyphs">900</text>
<line x1="291.40" y1="605.50" x2="294.50" y2="605.50" stroke="#000" stroke-width="0.9" />
<text x="290.60" y="607.57" font-size="5.777" fill="#000" text-anchor="end" font-weight="bold" textLength="11.43" lengthAdjust="spacingAndGlyphs">1200</text>
<line x1="294.00" y1="678.50" x2="343.10" y2="678.50" stroke="#000" stroke-width="1.0" />
<line x1="308.50" y1="678.50" x2="308.50" y2="681.60" stroke="#000" stroke-width="0.9" />
<line x1="329.50" y1="678.50" x2="329.50" y2="681.60" stroke="#000" stroke-width="0.9" />
<line x1="308.80" y1="653.66" x2="329.00" y2="615.80" stroke="#000" stroke-width="0.55" />
<circle cx="308.80" cy="653.66" r="1.15" fill="#000" />
<circle cx="329.00" cy="615.80" r="1.15" fill="#000" />
<line x1="308.80" y1="656.39" x2="329.00" y2="643.36" stroke="#000" stroke-width="0.55" />
<circle cx="308.80" cy="656.39" r="1.15" fill="#000" />
<circle cx="329.00" cy="643.36" r="1.15" fill="#000" />
<line x1="308.80" y1="660.63" x2="329.00" y2="648.82" stroke="#000" stroke-width="0.55" />
<circle cx="308.80" cy="660.63" r="1.15" fill="#000" />
<circle cx="329.00" cy="648.82" r="1.15" fill="#000" />
<line x1="308.80" y1="661.84" x2="329.00" y2="649.42" stroke="#000" stroke-width="0.55" />
<circle cx="308.80" cy="661.84" r="1.15" fill="#000" />
<circle cx="329.00" cy="649.42" r="1.15" fill="#000" />
<line x1="308.80" y1="665.17" x2="329.00" y2="656.69" stroke="#000" stroke-width="0.55" />
<circle cx="308.80" cy="665.17" r="1.15" fill="#000" />
<circle cx="329.00" cy="656.69" r="1.15" fill="#000" />
<line x1="308.80" y1="607.50" x2="329.00" y2="607.50" stroke="#222" stroke-width="0.7" />
<text x="318.80" y="607.40" font-size="5.4" fill="#333" text-anchor="middle" font-weight="bold">*</text>
<text x="318.80" y="595.80" font-size="7.2" fill="#c8c8c8" text-anchor="middle" font-weight="bold" textLength="30.50" lengthAdjust="spacingAndGlyphs">Scramble</text>
<text x="269.50" y="642.20" font-size="6.4" fill="#000" text-anchor="middle" font-weight="bold" textLength="48.50" lengthAdjust="spacingAndGlyphs" transform="rotate(-90 269.50 642.20)">eIPSC amplitude</text>
<text x="276.70" y="641.80" font-size="6.4" fill="#000" text-anchor="middle" font-weight="bold" textLength="11.40" lengthAdjust="spacingAndGlyphs" transform="rotate(-90 276.70 641.80)">(pA)</text>
<text x="310.40" y="685.90" font-size="6.3" fill="#000" text-anchor="end" font-weight="bold" textLength="31.20" lengthAdjust="spacingAndGlyphs" transform="rotate(-45 310.40 685.90)">Before HFS</text>
<text x="330.60" y="685.90" font-size="6.3" fill="#000" text-anchor="end" font-weight="bold" textLength="27.20" lengthAdjust="spacingAndGlyphs" transform="rotate(-45 330.60 685.90)">After HFS</text>
<line x1="383.50" y1="602.00" x2="383.50" y2="675.00" stroke="#000" stroke-width="1.0" />
<line x1="380.40" y1="674.50" x2="383.50" y2="674.50" stroke="#000" stroke-width="0.9" />
<text x="379.60" y="676.94" font-size="6.540000000000001" fill="#000" text-anchor="end" font-weight="bold" textLength="3.24" lengthAdjust="spacingAndGlyphs">0</text>
<line x1="380.40" y1="650.50" x2="383.50" y2="650.50" stroke="#000" stroke-width="0.9" />
<text x="379.60" y="652.81" font-size="6.540000000000001" fill="#000" text-anchor="end" font-weight="bold" textLength="3.24" lengthAdjust="spacingAndGlyphs">1</text>
<line x1="380.40" y1="626.50" x2="383.50" y2="626.50" stroke="#000" stroke-width="0.9" />
<text x="379.60" y="628.67" font-size="6.540000000000001" fill="#000" text-anchor="end" font-weight="bold" textLength="3.24" lengthAdjust="spacingAndGlyphs">2</text>
<line x1="380.40" y1="602.50" x2="383.50" y2="602.50" stroke="#000" stroke-width="0.9" />
<text x="379.60" y="604.54" font-size="6.540000000000001" fill="#000" text-anchor="end" font-weight="bold" textLength="3.24" lengthAdjust="spacingAndGlyphs">3</text>
<line x1="383.00" y1="674.50" x2="432.20" y2="674.50" stroke="#000" stroke-width="1.0" />
<line x1="397.50" y1="674.50" x2="397.50" y2="677.60" stroke="#000" stroke-width="0.9" />
<line x1="417.50" y1="674.50" x2="417.50" y2="677.60" stroke="#000" stroke-width="0.9" />
<line x1="397.00" y1="650.47" x2="417.80" y2="606.30" stroke="#000" stroke-width="0.55" />
<circle cx="397.00" cy="650.47" r="1.15" fill="#000" />
<circle cx="417.80" cy="606.30" r="1.15" fill="#000" />
<line x1="397.00" y1="650.47" x2="417.80" y2="630.44" stroke="#000" stroke-width="0.55" />
<circle cx="397.00" cy="650.47" r="1.15" fill="#000" />
<circle cx="417.80" cy="630.44" r="1.15" fill="#000" />
<line x1="397.00" y1="650.47" x2="417.80" y2="634.78" stroke="#000" stroke-width="0.55" />
<circle cx="397.00" cy="650.47" r="1.15" fill="#000" />
<circle cx="417.80" cy="634.78" r="1.15" fill="#000" />
<line x1="397.00" y1="650.47" x2="417.80" y2="635.99" stroke="#000" stroke-width="0.55" />
<circle cx="397.00" cy="650.47" r="1.15" fill="#000" />
<circle cx="417.80" cy="635.99" r="1.15" fill="#000" />
<line x1="397.00" y1="650.47" x2="417.80" y2="640.33" stroke="#000" stroke-width="0.55" />
<circle cx="397.00" cy="650.47" r="1.15" fill="#000" />
<circle cx="417.80" cy="640.33" r="1.15" fill="#000" />
<line x1="397.00" y1="603.60" x2="417.80" y2="603.60" stroke="#9a9a9a" stroke-width="1.0" />
<text x="407.40" y="603.30" font-size="5.4" fill="#333" text-anchor="middle" font-weight="bold">*</text>
<text x="407.40" y="592.20" font-size="7.2" fill="#c8c8c8" text-anchor="middle" font-weight="bold" textLength="30.80" lengthAdjust="spacingAndGlyphs">Scramble</text>
<text x="366.10" y="638.50" font-size="6.4" fill="#000" text-anchor="middle" font-weight="bold" textLength="81.50" lengthAdjust="spacingAndGlyphs" transform="rotate(-90 366.10 638.50)">Normalized eIPSC amplitude</text>
<text x="398.75" y="682.65" font-size="6.3" fill="#000" text-anchor="end" font-weight="bold" textLength="31.20" lengthAdjust="spacingAndGlyphs" transform="rotate(-45 398.75 682.65)">Before HFS</text>
<text x="419.55" y="682.65" font-size="6.3" fill="#000" text-anchor="end" font-weight="bold" textLength="27.20" lengthAdjust="spacingAndGlyphs" transform="rotate(-45 419.55 682.65)">After HFS</text>
<line x1="463.50" y1="595.00" x2="463.50" y2="675.00" stroke="#000" stroke-width="1.0" />
<line x1="460.40" y1="674.50" x2="463.50" y2="674.50" stroke="#000" stroke-width="0.9" />
<text x="459.60" y="676.98" font-size="6.649" fill="#000" text-anchor="end" font-weight="bold" textLength="3.29" lengthAdjust="spacingAndGlyphs">0</text>
<line x1="460.40" y1="648.50" x2="463.50" y2="648.50" stroke="#000" stroke-width="0.9" />
<text x="459.60" y="650.71" font-size="6.649" fill="#000" text-anchor="end" font-weight="bold" textLength="3.29" lengthAdjust="spacingAndGlyphs">1</text>
<line x1="460.40" y1="622.50" x2="463.50" y2="622.50" stroke="#000" stroke-width="0.9" />
<text x="459.60" y="624.45" font-size="6.649" fill="#000" text-anchor="end" font-weight="bold" textLength="3.29" lengthAdjust="spacingAndGlyphs">2</text>
<line x1="460.40" y1="595.50" x2="463.50" y2="595.50" stroke="#000" stroke-width="0.9" />
<text x="459.60" y="598.18" font-size="6.649" fill="#000" text-anchor="end" font-weight="bold" textLength="3.29" lengthAdjust="spacingAndGlyphs">3</text>
<line x1="463.00" y1="674.50" x2="682.10" y2="674.50" stroke="#000" stroke-width="1.0" />
<line x1="463.50" y1="674.50" x2="463.50" y2="677.60" stroke="#000" stroke-width="0.9" />
<text x="463.50" y="685.00" font-size="6.649" fill="#000" text-anchor="middle" font-weight="bold" textLength="5.26" lengthAdjust="spacingAndGlyphs">-5</text>
<text x="484.30" y="685.00" font-size="6.649" fill="#000" text-anchor="middle" font-weight="bold" textLength="3.29" lengthAdjust="spacingAndGlyphs">0</text>
<text x="490.10" y="685.00" font-size="6.649" fill="#000" text-anchor="middle" font-weight="bold" textLength="3.29" lengthAdjust="spacingAndGlyphs">0</text>
<line x1="553.50" y1="674.50" x2="553.50" y2="677.60" stroke="#000" stroke-width="0.9" />
<text x="553.90" y="685.00" font-size="6.649" fill="#000" text-anchor="middle" font-weight="bold" textLength="6.58" lengthAdjust="spacingAndGlyphs">10</text>
<line x1="617.50" y1="674.50" x2="617.50" y2="677.60" stroke="#000" stroke-width="0.9" />
<text x="617.70" y="685.00" font-size="6.649" fill="#000" text-anchor="middle" font-weight="bold" textLength="6.58" lengthAdjust="spacingAndGlyphs">20</text>
<line x1="681.50" y1="674.50" x2="681.50" y2="677.60" stroke="#000" stroke-width="0.9" />
<text x="681.50" y="685.00" font-size="6.649" fill="#000" text-anchor="middle" font-weight="bold" textLength="6.58" lengthAdjust="spacingAndGlyphs">30</text>
<line x1="522.50" y1="674.50" x2="522.50" y2="676.61" stroke="#000" stroke-width="0.85" />
<line x1="585.50" y1="674.50" x2="585.50" y2="676.61" stroke="#000" stroke-width="0.85" />
<line x1="649.50" y1="674.50" x2="649.50" y2="676.61" stroke="#000" stroke-width="0.85" />
<rect x="485.70" y="673.60" width="3.80" height="2.00" fill="#fff" />
<line x1="483.12" y1="676.61" x2="486.68" y2="672.59" stroke="#000" stroke-width="1.15" />
<line x1="488.52" y1="676.61" x2="492.08" y2="672.59" stroke="#000" stroke-width="1.15" />
<text x="573.90" y="695.90" font-size="6.6" fill="#000" text-anchor="middle" font-weight="bold" textLength="34.70" lengthAdjust="spacingAndGlyphs">Time (min)</text>
<text x="445.55" y="635.30" font-size="6.8" fill="#000" text-anchor="middle" font-weight="bold" textLength="87.30" lengthAdjust="spacingAndGlyphs" transform="rotate(-90 445.55 635.30)">Normalized eIPSC amplitude</text>
<path d="M463.50 646.23 L463.50 651.49 M462.40 646.23 L464.60 646.23 M462.40 651.49 L464.60 651.49" stroke="#a8a8a8" stroke-width="0.5" fill="none"/><path d="M467.66 646.49 L467.66 652.80 M466.56 646.49 L468.76 646.49 M466.56 652.80 L468.76 652.80" stroke="#a8a8a8" stroke-width="0.5" fill="none"/><path d="M471.82 646.23 L471.82 649.38 M470.72 646.23 L472.92 646.23 M470.72 649.38 L472.92 649.38" stroke="#a8a8a8" stroke-width="0.5" fill="none"/><path d="M475.98 646.23 L475.98 650.43 M474.88 646.23 L477.08 646.23 M474.88 650.43 L477.08 650.43" stroke="#a8a8a8" stroke-width="0.5" fill="none"/><path d="M480.14 642.29 L480.14 646.49 M479.04 642.29 L481.24 642.29 M479.04 646.49 L481.24 646.49" stroke="#a8a8a8" stroke-width="0.5" fill="none"/><circle cx="463.50" cy="648.86" r="1.25" fill="#999999"/><circle cx="467.66" cy="649.65" r="1.25" fill="#999999"/><circle cx="471.82" cy="647.81" r="1.25" fill="#999999"/><circle cx="475.98" cy="648.33" r="1.25" fill="#999999"/><circle cx="480.14" cy="644.39" r="1.25" fill="#999999"/>
<path d="M496.48 609.72 L496.48 637.04 M495.38 609.72 L497.58 609.72 M495.38 637.04 L497.58 637.04" stroke="#a8a8a8" stroke-width="0.5" fill="none"/><path d="M502.86 621.28 L502.86 634.41 M501.76 621.28 L503.96 621.28 M501.76 634.41 L503.96 634.41" stroke="#a8a8a8" stroke-width="0.5" fill="none"/><path d="M509.24 624.17 L509.24 637.30 M508.14 624.17 L510.34 624.17 M508.14 637.30 L510.34 637.30" stroke="#a8a8a8" stroke-width="0.5" fill="none"/><path d="M515.62 626.27 L515.62 637.83 M514.52 626.27 L516.72 626.27 M514.52 637.83 L516.72 637.83" stroke="#a8a8a8" stroke-width="0.5" fill="none"/><path d="M522.00 628.11 L522.00 637.04 M520.90 628.11 L523.10 628.11 M520.90 637.04 L523.10 637.04" stroke="#a8a8a8" stroke-width="0.5" fill="none"/><path d="M528.38 629.16 L528.38 637.56 M527.28 629.16 L529.48 629.16 M527.28 637.56 L529.48 637.56" stroke="#a8a8a8" stroke-width="0.5" fill="none"/><path d="M534.76 629.95 L534.76 635.20 M533.66 629.95 L535.86 629.95 M533.66 635.20 L535.86 635.20" stroke="#a8a8a8" stroke-width="0.5" fill="none"/><path d="M541.14 627.58 L541.14 635.99 M540.04 627.58 L542.24 627.58 M540.04 635.99 L542.24 635.99" stroke="#a8a8a8" stroke-width="0.5" fill="none"/><path d="M547.52 626.79 L547.52 638.35 M546.42 626.79 L548.62 626.79 M546.42 638.35 L548.62 638.35" stroke="#a8a8a8" stroke-width="0.5" fill="none"/><path d="M553.90 629.16 L553.90 638.61 M552.80 629.16 L555.00 629.16 M552.80 638.61 L555.00 638.61" stroke="#a8a8a8" stroke-width="0.5" fill="none"/><path d="M560.28 629.95 L560.28 639.40 M559.18 629.95 L561.38 629.95 M559.18 639.40 L561.38 639.40" stroke="#a8a8a8" stroke-width="0.5" fill="none"/><path d="M566.66 633.36 L566.66 638.61 M565.56 633.36 L567.76 633.36 M565.56 638.61 L567.76 638.61" stroke="#a8a8a8" stroke-width="0.5" fill="none"/><path d="M573.04 633.10 L573.04 638.35 M571.94 633.10 L574.14 633.10 M571.94 638.35 L574.14 638.35" stroke="#a8a8a8" stroke-width="0.5" fill="none"/><path d="M579.42 629.16 L579.42 634.41 M578.32 629.16 L580.52 629.16 M578.32 634.41 L580.52 634.41" stroke="#a8a8a8" stroke-width="0.5" fill="none"/><path d="M585.80 630.47 L585.80 635.73 M584.70 630.47 L586.90 630.47 M584.70 635.73 L586.90 635.73" stroke="#a8a8a8" stroke-width="0.5" fill="none"/><path d="M592.18 629.68 L592.18 633.89 M591.08 629.68 L593.28 629.68 M591.08 633.89 L593.28 633.89" stroke="#a8a8a8" stroke-width="0.5" fill="none"/><path d="M598.56 627.32 L598.56 633.62 M597.46 627.32 L599.66 627.32 M597.46 633.62 L599.66 633.62" stroke="#a8a8a8" stroke-width="0.5" fill="none"/><path d="M604.94 627.85 L604.94 633.10 M603.84 627.85 L606.04 627.85 M603.84 633.10 L606.04 633.10" stroke="#a8a8a8" stroke-width="0.5" fill="none"/><path d="M611.32 622.07 L611.32 631.52 M610.22 622.07 L612.42 622.07 M610.22 631.52 L612.42 631.52" stroke="#a8a8a8" stroke-width="0.5" fill="none"/><path d="M617.70 619.44 L617.70 631.00 M616.60 619.44 L618.80 619.44 M616.60 631.00 L618.80 631.00" stroke="#a8a8a8" stroke-width="0.5" fill="none"/><path d="M624.08 622.59 L624.08 633.10 M622.98 622.59 L625.18 622.59 M622.98 633.10 L625.18 633.10" stroke="#a8a8a8" stroke-width="0.5" fill="none"/><path d="M630.46 622.07 L630.46 635.20 M629.36 622.07 L631.56 622.07 M629.36 635.20 L631.56 635.20" stroke="#a8a8a8" stroke-width="0.5" fill="none"/><path d="M636.84 621.02 L636.84 632.57 M635.74 621.02 L637.94 621.02 M635.74 632.57 L637.94 632.57" stroke="#a8a8a8" stroke-width="0.5" fill="none"/><path d="M643.22 622.07 L643.22 635.20 M642.12 622.07 L644.32 622.07 M642.12 635.20 L644.32 635.20" stroke="#a8a8a8" stroke-width="0.5" fill="none"/><path d="M649.60 618.65 L649.60 631.79 M648.50 618.65 L650.70 618.65 M648.50 631.79 L650.70 631.79" stroke="#a8a8a8" stroke-width="0.5" fill="none"/><path d="M655.98 620.75 L655.98 633.89 M654.88 620.75 L657.08 620.75 M654.88 633.89 L657.08 633.89" stroke="#a8a8a8" stroke-width="0.5" fill="none"/><path d="M662.36 616.55 L662.36 631.26 M661.26 616.55 L663.46 616.55 M661.26 631.26 L663.46 631.26" stroke="#a8a8a8" stroke-width="0.5" fill="none"/><path d="M668.74 622.07 L668.74 633.62 M667.64 622.07 L669.84 622.07 M667.64 633.62 L669.84 633.62" stroke="#a8a8a8" stroke-width="0.5" fill="none"/><path d="M675.12 619.44 L675.12 634.15 M674.02 619.44 L676.22 619.44 M674.02 634.15 L676.22 634.15" stroke="#a8a8a8" stroke-width="0.5" fill="none"/><path d="M681.50 615.76 L681.50 632.57 M680.40 615.76 L682.60 615.76 M680.40 632.57 L682.60 632.57" stroke="#a8a8a8" stroke-width="0.5" fill="none"/><circle cx="496.48" cy="623.38" r="1.25" fill="#999999"/><circle cx="502.86" cy="627.85" r="1.25" fill="#999999"/><circle cx="509.24" cy="630.73" r="1.25" fill="#999999"/><circle cx="515.62" cy="632.05" r="1.25" fill="#999999"/><circle cx="522.00" cy="632.57" r="1.25" fill="#999999"/><circle cx="528.38" cy="633.36" r="1.25" fill="#999999"/><circle cx="534.76" cy="632.57" r="1.25" fill="#999999"/><circle cx="541.14" cy="631.79" r="1.25" fill="#999999"/><circle cx="547.52" cy="632.57" r="1.25" fill="#999999"/><circle cx="553.90" cy="633.89" r="1.25" fill="#999999"/><circle cx="560.28" cy="634.67" r="1.25" fill="#999999"/><circle cx="566.66" cy="635.99" r="1.25" fill="#999999"/><circle cx="573.04" cy="635.73" r="1.25" fill="#999999"/><circle cx="579.42" cy="631.79" r="1.25" fill="#999999"/><circle cx="585.80" cy="633.10" r="1.25" fill="#999999"/><circle cx="592.18" cy="631.79" r="1.25" fill="#999999"/><circle cx="598.56" cy="630.47" r="1.25" fill="#999999"/><circle cx="604.94" cy="630.47" r="1.25" fill="#999999"/><circle cx="611.32" cy="626.79" r="1.25" fill="#999999"/><circle cx="617.70" cy="625.22" r="1.25" fill="#999999"/><circle cx="624.08" cy="627.85" r="1.25" fill="#999999"/><circle cx="630.46" cy="628.63" r="1.25" fill="#999999"/><circle cx="636.84" cy="626.79" r="1.25" fill="#999999"/><circle cx="643.22" cy="628.63" r="1.25" fill="#999999"/><circle cx="649.60" cy="625.22" r="1.25" fill="#999999"/><circle cx="655.98" cy="627.32" r="1.25" fill="#999999"/><circle cx="662.36" cy="623.91" r="1.25" fill="#999999"/><circle cx="668.74" cy="627.85" r="1.25" fill="#999999"/><circle cx="675.12" cy="626.79" r="1.25" fill="#999999"/><circle cx="681.50" cy="624.17" r="1.25" fill="#999999"/>
<path d="M463.50 645.71 L463.50 649.91 M462.40 645.71 L464.60 645.71 M462.40 649.91 L464.60 649.91" stroke="#f27c88" stroke-width="0.5" fill="none"/><path d="M467.66 646.76 L467.66 649.91 M466.56 646.76 L468.76 646.76 M466.56 649.91 L468.76 649.91" stroke="#f27c88" stroke-width="0.5" fill="none"/><path d="M471.82 646.76 L471.82 649.91 M470.72 646.76 L472.92 646.76 M470.72 649.91 L472.92 649.91" stroke="#f27c88" stroke-width="0.5" fill="none"/><path d="M475.98 645.71 L475.98 649.91 M474.88 645.71 L477.08 645.71 M474.88 649.91 L477.08 649.91" stroke="#f27c88" stroke-width="0.5" fill="none"/><path d="M480.14 647.28 L480.14 650.43 M479.04 647.28 L481.24 647.28 M479.04 650.43 L481.24 650.43" stroke="#f27c88" stroke-width="0.5" fill="none"/><circle cx="463.50" cy="647.81" r="1.25" fill="#f06070"/><circle cx="467.66" cy="648.33" r="1.25" fill="#f06070"/><circle cx="471.82" cy="648.33" r="1.25" fill="#f06070"/><circle cx="475.98" cy="647.81" r="1.25" fill="#f06070"/><circle cx="480.14" cy="648.86" r="1.25" fill="#f06070"/>
<path d="M496.48 646.23 L496.48 650.43 M495.38 646.23 L497.58 646.23 M495.38 650.43 L497.58 650.43" stroke="#f27c88" stroke-width="0.5" fill="none"/><path d="M502.86 648.86 L502.86 653.06 M501.76 648.86 L503.96 648.86 M501.76 653.06 L503.96 653.06" stroke="#f27c88" stroke-width="0.5" fill="none"/><path d="M509.24 642.55 L509.24 647.81 M508.14 642.55 L510.34 642.55 M508.14 647.81 L510.34 647.81" stroke="#f27c88" stroke-width="0.5" fill="none"/><path d="M515.62 643.08 L515.62 648.33 M514.52 643.08 L516.72 643.08 M514.52 648.33 L516.72 648.33" stroke="#f27c88" stroke-width="0.5" fill="none"/><path d="M522.00 640.72 L522.00 648.07 M520.90 640.72 L523.10 640.72 M520.90 648.07 L523.10 648.07" stroke="#f27c88" stroke-width="0.5" fill="none"/><path d="M528.38 640.72 L528.38 648.07 M527.28 640.72 L529.48 640.72 M527.28 648.07 L529.48 648.07" stroke="#f27c88" stroke-width="0.5" fill="none"/><path d="M534.76 642.55 L534.76 648.86 M533.66 642.55 L535.86 642.55 M533.66 648.86 L535.86 648.86" stroke="#f27c88" stroke-width="0.5" fill="none"/><path d="M541.14 641.24 L541.14 647.55 M540.04 641.24 L542.24 641.24 M540.04 647.55 L542.24 647.55" stroke="#f27c88" stroke-width="0.5" fill="none"/><path d="M547.52 640.19 L547.52 647.55 M546.42 640.19 L548.62 640.19 M546.42 647.55 L548.62 647.55" stroke="#f27c88" stroke-width="0.5" fill="none"/><path d="M553.90 642.03 L553.90 648.33 M552.80 642.03 L555.00 642.03 M552.80 648.33 L555.00 648.33" stroke="#f27c88" stroke-width="0.5" fill="none"/><path d="M560.28 637.56 L560.28 645.97 M559.18 637.56 L561.38 637.56 M559.18 645.97 L561.38 645.97" stroke="#f27c88" stroke-width="0.5" fill="none"/><path d="M566.66 641.24 L566.66 647.55 M565.56 641.24 L567.76 641.24 M565.56 647.55 L567.76 647.55" stroke="#f27c88" stroke-width="0.5" fill="none"/><path d="M573.04 641.50 L573.04 648.86 M571.94 641.50 L574.14 641.50 M571.94 648.86 L574.14 648.86" stroke="#f27c88" stroke-width="0.5" fill="none"/><path d="M579.42 641.50 L579.42 649.91 M578.32 641.50 L580.52 641.50 M578.32 649.91 L580.52 649.91" stroke="#f27c88" stroke-width="0.5" fill="none"/><path d="M585.80 642.55 L585.80 648.86 M584.70 642.55 L586.90 642.55 M584.70 648.86 L586.90 648.86" stroke="#f27c88" stroke-width="0.5" fill="none"/><path d="M592.18 639.93 L592.18 646.23 M591.08 639.93 L593.28 639.93 M591.08 646.23 L593.28 646.23" stroke="#f27c88" stroke-width="0.5" fill="none"/><path d="M598.56 639.40 L598.56 645.71 M597.46 639.40 L599.66 639.40 M597.46 645.71 L599.66 645.71" stroke="#f27c88" stroke-width="0.5" fill="none"/><path d="M604.94 641.24 L604.94 647.55 M603.84 641.24 L606.04 641.24 M603.84 647.55 L606.04 647.55" stroke="#f27c88" stroke-width="0.5" fill="none"/><path d="M611.32 643.08 L611.32 648.33 M610.22 643.08 L612.42 643.08 M610.22 648.33 L612.42 648.33" stroke="#f27c88" stroke-width="0.5" fill="none"/><path d="M617.70 637.56 L617.70 644.92 M616.60 637.56 L618.80 637.56 M616.60 644.92 L618.80 644.92" stroke="#f27c88" stroke-width="0.5" fill="none"/><path d="M624.08 641.24 L624.08 647.55 M622.98 641.24 L625.18 641.24 M622.98 647.55 L625.18 647.55" stroke="#f27c88" stroke-width="0.5" fill="none"/><path d="M630.46 642.55 L630.46 647.81 M629.36 642.55 L631.56 642.55 M629.36 647.81 L631.56 647.81" stroke="#f27c88" stroke-width="0.5" fill="none"/><path d="M636.84 645.71 L636.84 650.96 M635.74 645.71 L637.94 645.71 M635.74 650.96 L637.94 650.96" stroke="#f27c88" stroke-width="0.5" fill="none"/><path d="M643.22 643.34 L643.22 650.70 M642.12 643.34 L644.32 643.34 M642.12 650.70 L644.32 650.70" stroke="#f27c88" stroke-width="0.5" fill="none"/><path d="M649.60 645.71 L649.60 652.01 M648.50 645.71 L650.70 645.71 M648.50 652.01 L650.70 652.01" stroke="#f27c88" stroke-width="0.5" fill="none"/><path d="M655.98 645.71 L655.98 650.96 M654.88 645.71 L657.08 645.71 M654.88 650.96 L657.08 650.96" stroke="#f27c88" stroke-width="0.5" fill="none"/><path d="M662.36 645.44 L662.36 653.85 M661.26 645.44 L663.46 645.44 M661.26 653.85 L663.46 653.85" stroke="#f27c88" stroke-width="0.5" fill="none"/><path d="M668.74 644.66 L668.74 652.01 M667.64 644.66 L669.84 644.66 M667.64 652.01 L669.84 652.01" stroke="#f27c88" stroke-width="0.5" fill="none"/><path d="M675.12 640.72 L675.12 648.07 M674.02 640.72 L676.22 640.72 M674.02 648.07 L676.22 648.07" stroke="#f27c88" stroke-width="0.5" fill="none"/><path d="M681.50 642.82 L681.50 652.27 M680.40 642.82 L682.60 642.82 M680.40 652.27 L682.60 652.27" stroke="#f27c88" stroke-width="0.5" fill="none"/><circle cx="496.48" cy="648.33" r="1.25" fill="#f06070"/><circle cx="502.86" cy="650.96" r="1.25" fill="#f06070"/><circle cx="509.24" cy="645.18" r="1.25" fill="#f06070"/><circle cx="515.62" cy="645.71" r="1.25" fill="#f06070"/><circle cx="522.00" cy="644.39" r="1.25" fill="#f06070"/><circle cx="528.38" cy="644.39" r="1.25" fill="#f06070"/><circle cx="534.76" cy="645.71" r="1.25" fill="#f06070"/><circle cx="541.14" cy="644.39" r="1.25" fill="#f06070"/><circle cx="547.52" cy="643.87" r="1.25" fill="#f06070"/><circle cx="553.90" cy="645.18" r="1.25" fill="#f06070"/><circle cx="560.28" cy="641.77" r="1.25" fill="#f06070"/><circle cx="566.66" cy="644.39" r="1.25" fill="#f06070"/><circle cx="573.04" cy="645.18" r="1.25" fill="#f06070"/><circle cx="579.42" cy="645.71" r="1.25" fill="#f06070"/><circle cx="585.80" cy="645.71" r="1.25" fill="#f06070"/><circle cx="592.18" cy="643.08" r="1.25" fill="#f06070"/><circle cx="598.56" cy="642.55" r="1.25" fill="#f06070"/><circle cx="604.94" cy="644.39" r="1.25" fill="#f06070"/><circle cx="611.32" cy="645.71" r="1.25" fill="#f06070"/><circle cx="617.70" cy="641.24" r="1.25" fill="#f06070"/><circle cx="624.08" cy="644.39" r="1.25" fill="#f06070"/><circle cx="630.46" cy="645.18" r="1.25" fill="#f06070"/><circle cx="636.84" cy="648.33" r="1.25" fill="#f06070"/><circle cx="643.22" cy="647.02" r="1.25" fill="#f06070"/><circle cx="649.60" cy="648.86" r="1.25" fill="#f06070"/><circle cx="655.98" cy="648.33" r="1.25" fill="#f06070"/><circle cx="662.36" cy="649.65" r="1.25" fill="#f06070"/><circle cx="668.74" cy="648.33" r="1.25" fill="#f06070"/><circle cx="675.12" cy="644.39" r="1.25" fill="#f06070"/><circle cx="681.50" cy="647.55" r="1.25" fill="#f06070"/>
<path d="M463.50 646.76 L463.50 649.91 M462.40 646.76 L464.60 646.76 M462.40 649.91 L464.60 649.91" stroke="#6464f4" stroke-width="0.5" fill="none"/><path d="M467.66 644.39 L467.66 647.02 M466.56 644.39 L468.76 644.39 M466.56 647.02 L468.76 647.02" stroke="#6464f4" stroke-width="0.5" fill="none"/><path d="M471.82 643.34 L471.82 645.44 M470.72 643.34 L472.92 643.34 M470.72 645.44 L472.92 645.44" stroke="#6464f4" stroke-width="0.5" fill="none"/><path d="M475.98 643.87 L475.98 646.49 M474.88 643.87 L477.08 643.87 M474.88 646.49 L477.08 646.49" stroke="#6464f4" stroke-width="0.5" fill="none"/><path d="M480.14 646.76 L480.14 649.91 M479.04 646.76 L481.24 646.76 M479.04 649.91 L481.24 649.91" stroke="#6464f4" stroke-width="0.5" fill="none"/><circle cx="463.50" cy="648.33" r="1.25" fill="#4444f4"/><circle cx="467.66" cy="645.71" r="1.25" fill="#4444f4"/><circle cx="471.82" cy="644.39" r="1.25" fill="#4444f4"/><circle cx="475.98" cy="645.18" r="1.25" fill="#4444f4"/><circle cx="480.14" cy="648.33" r="1.25" fill="#4444f4"/>
<path d="M496.48 646.76 L496.48 649.91 M495.38 646.76 L497.58 646.76 M495.38 649.91 L497.58 649.91" stroke="#6464f4" stroke-width="0.5" fill="none"/><path d="M502.86 647.81 L502.86 653.06 M501.76 647.81 L503.96 647.81 M501.76 653.06 L503.96 653.06" stroke="#6464f4" stroke-width="0.5" fill="none"/><path d="M509.24 646.49 L509.24 652.80 M508.14 646.49 L510.34 646.49 M508.14 652.80 L510.34 652.80" stroke="#6464f4" stroke-width="0.5" fill="none"/><path d="M515.62 645.71 L515.62 650.96 M514.52 645.71 L516.72 645.71 M514.52 650.96 L516.72 650.96" stroke="#6464f4" stroke-width="0.5" fill="none"/><path d="M522.00 644.13 L522.00 647.28 M520.90 644.13 L523.10 644.13 M520.90 647.28 L523.10 647.28" stroke="#6464f4" stroke-width="0.5" fill="none"/><path d="M528.38 650.17 L528.38 652.80 M527.28 650.17 L529.48 650.17 M527.28 652.80 L529.48 652.80" stroke="#6464f4" stroke-width="0.5" fill="none"/><path d="M534.76 647.02 L534.76 652.27 M533.66 647.02 L535.86 647.02 M533.66 652.27 L535.86 652.27" stroke="#6464f4" stroke-width="0.5" fill="none"/><path d="M541.14 647.02 L541.14 652.27 M540.04 647.02 L542.24 647.02 M540.04 652.27 L542.24 652.27" stroke="#6464f4" stroke-width="0.5" fill="none"/><path d="M547.52 646.23 L547.52 650.43 M546.42 646.23 L548.62 646.23 M546.42 650.43 L548.62 650.43" stroke="#6464f4" stroke-width="0.5" fill="none"/><path d="M553.90 646.23 L553.90 650.43 M552.80 646.23 L555.00 646.23 M552.80 650.43 L555.00 650.43" stroke="#6464f4" stroke-width="0.5" fill="none"/><path d="M560.28 648.33 L560.28 653.59 M559.18 648.33 L561.38 648.33 M559.18 653.59 L561.38 653.59" stroke="#6464f4" stroke-width="0.5" fill="none"/><path d="M566.66 646.23 L566.66 650.43 M565.56 646.23 L567.76 646.23 M565.56 650.43 L567.76 650.43" stroke="#6464f4" stroke-width="0.5" fill="none"/><path d="M573.04 648.86 L573.04 654.11 M571.94 648.86 L574.14 648.86 M571.94 654.11 L574.14 654.11" stroke="#6464f4" stroke-width="0.5" fill="none"/><path d="M579.42 647.02 L579.42 652.27 M578.32 647.02 L580.52 647.02 M578.32 652.27 L580.52 652.27" stroke="#6464f4" stroke-width="0.5" fill="none"/><path d="M585.80 646.23 L585.80 650.43 M584.70 646.23 L586.90 646.23 M584.70 650.43 L586.90 650.43" stroke="#6464f4" stroke-width="0.5" fill="none"/><path d="M592.18 643.61 L592.18 648.86 M591.08 643.61 L593.28 643.61 M591.08 648.86 L593.28 648.86" stroke="#6464f4" stroke-width="0.5" fill="none"/><path d="M598.56 643.08 L598.56 648.33 M597.46 643.08 L599.66 643.08 M597.46 648.33 L599.66 648.33" stroke="#6464f4" stroke-width="0.5" fill="none"/><path d="M604.94 645.18 L604.94 651.49 M603.84 645.18 L606.04 645.18 M603.84 651.49 L606.04 651.49" stroke="#6464f4" stroke-width="0.5" fill="none"/><path d="M611.32 643.61 L611.32 648.86 M610.22 643.61 L612.42 643.61 M610.22 648.86 L612.42 648.86" stroke="#6464f4" stroke-width="0.5" fill="none"/><path d="M617.70 643.08 L617.70 649.38 M616.60 643.08 L618.80 643.08 M616.60 649.38 L618.80 649.38" stroke="#6464f4" stroke-width="0.5" fill="none"/><path d="M624.08 641.77 L624.08 647.02 M622.98 641.77 L625.18 641.77 M622.98 647.02 L625.18 647.02" stroke="#6464f4" stroke-width="0.5" fill="none"/><path d="M630.46 643.61 L630.46 647.81 M629.36 643.61 L631.56 643.61 M629.36 647.81 L631.56 647.81" stroke="#6464f4" stroke-width="0.5" fill="none"/><path d="M636.84 646.23 L636.84 651.49 M635.74 646.23 L637.94 646.23 M635.74 651.49 L637.94 651.49" stroke="#6464f4" stroke-width="0.5" fill="none"/><path d="M643.22 646.49 L643.22 652.80 M642.12 646.49 L644.32 646.49 M642.12 652.80 L644.32 652.80" stroke="#6464f4" stroke-width="0.5" fill="none"/><path d="M649.60 647.02 L649.60 652.27 M648.50 647.02 L650.70 647.02 M648.50 652.27 L650.70 652.27" stroke="#6464f4" stroke-width="0.5" fill="none"/><path d="M655.98 647.02 L655.98 652.27 M654.88 647.02 L657.08 647.02 M654.88 652.27 L657.08 652.27" stroke="#6464f4" stroke-width="0.5" fill="none"/><path d="M662.36 649.12 L662.36 655.43 M661.26 649.12 L663.46 649.12 M661.26 655.43 L663.46 655.43" stroke="#6464f4" stroke-width="0.5" fill="none"/><path d="M668.74 646.49 L668.74 652.80 M667.64 646.49 L669.84 646.49 M667.64 652.80 L669.84 652.80" stroke="#6464f4" stroke-width="0.5" fill="none"/><path d="M675.12 645.71 L675.12 650.96 M674.02 645.71 L676.22 645.71 M674.02 650.96 L676.22 650.96" stroke="#6464f4" stroke-width="0.5" fill="none"/><path d="M681.50 645.18 L681.50 651.49 M680.40 645.18 L682.60 645.18 M680.40 651.49 L682.60 651.49" stroke="#6464f4" stroke-width="0.5" fill="none"/><circle cx="496.48" cy="648.33" r="1.25" fill="#4444f4"/><circle cx="502.86" cy="650.43" r="1.25" fill="#4444f4"/><circle cx="509.24" cy="649.65" r="1.25" fill="#4444f4"/><circle cx="515.62" cy="648.33" r="1.25" fill="#4444f4"/><circle cx="522.00" cy="645.71" r="1.25" fill="#4444f4"/><circle cx="528.38" cy="651.49" r="1.25" fill="#4444f4"/><circle cx="534.76" cy="649.65" r="1.25" fill="#4444f4"/><circle cx="541.14" cy="649.65" r="1.25" fill="#4444f4"/><circle cx="547.52" cy="648.33" r="1.25" fill="#4444f4"/><circle cx="553.90" cy="648.33" r="1.25" fill="#4444f4"/><circle cx="560.28" cy="650.96" r="1.25" fill="#4444f4"/><circle cx="566.66" cy="648.33" r="1.25" fill="#4444f4"/><circle cx="573.04" cy="651.49" r="1.25" fill="#4444f4"/><circle cx="579.42" cy="649.65" r="1.25" fill="#4444f4"/><circle cx="585.80" cy="648.33" r="1.25" fill="#4444f4"/><circle cx="592.18" cy="646.23" r="1.25" fill="#4444f4"/><circle cx="598.56" cy="645.71" r="1.25" fill="#4444f4"/><circle cx="604.94" cy="648.33" r="1.25" fill="#4444f4"/><circle cx="611.32" cy="646.23" r="1.25" fill="#4444f4"/><circle cx="617.70" cy="646.23" r="1.25" fill="#4444f4"/><circle cx="624.08" cy="644.39" r="1.25" fill="#4444f4"/><circle cx="630.46" cy="645.71" r="1.25" fill="#4444f4"/><circle cx="636.84" cy="648.86" r="1.25" fill="#4444f4"/><circle cx="643.22" cy="649.65" r="1.25" fill="#4444f4"/><circle cx="649.60" cy="649.65" r="1.25" fill="#4444f4"/><circle cx="655.98" cy="649.65" r="1.25" fill="#4444f4"/><circle cx="662.36" cy="652.27" r="1.25" fill="#4444f4"/><circle cx="668.74" cy="649.65" r="1.25" fill="#4444f4"/><circle cx="675.12" cy="648.33" r="1.25" fill="#4444f4"/><circle cx="681.50" cy="648.33" r="1.25" fill="#4444f4"/>
<line x1="463.50" y1="648.50" x2="681.60" y2="648.50" stroke="#000" stroke-width="0.75" stroke-dasharray="1.4 0.9"/>
<line x1="488.80" y1="662.80" x2="488.80" y2="651.10" stroke="#ff2a2a" stroke-width="0.8" />
<path d="M488.80 648.60 L486.65 652.60 L490.95 652.60 Z" fill="#ff2020"/>
<text x="488.80" y="669.90" font-size="6.4" fill="#ff2020" text-anchor="middle" font-weight="bold" stroke="#ff2020" stroke-width="0.15">HFS</text>
<circle cx="600.30" cy="578.40" r="1.2" fill="#9a9a9a" />
<text x="609.90" y="580.60" font-size="6.5" fill="#9a9a9a" textLength="65.40" lengthAdjust="spacingAndGlyphs">mir30shRNA-Scramble</text>
<circle cx="600.30" cy="588.90" r="1.2" fill="#f06070" />
<text x="609.90" y="591.10" font-size="6.5" fill="#f06070" textLength="55.20" lengthAdjust="spacingAndGlyphs">mir30shRNA-BDNF</text>
<circle cx="600.30" cy="599.70" r="1.2" fill="#4444f0" />
<text x="609.90" y="601.90" font-size="6.5" fill="#4444f0" textLength="50.80" lengthAdjust="spacingAndGlyphs">mir30shRNA-TrkB</text>
</svg>
</body></html>
